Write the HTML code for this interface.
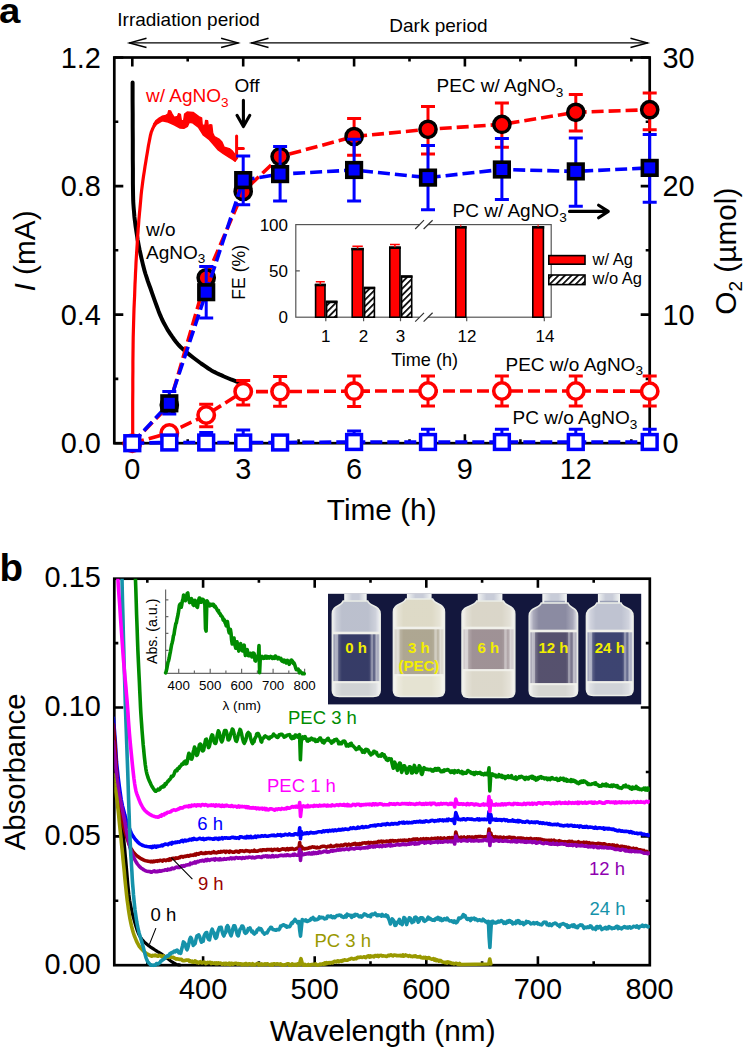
<!DOCTYPE html>
<html><head><meta charset="utf-8"><title>Figure</title>
<style>
html,body{margin:0;padding:0;background:#fff;width:745px;height:1048px;overflow:hidden;}
svg{display:block;}
text{font-family:"Liberation Sans",sans-serif;}
</style></head><body>
<svg width="745" height="1048" viewBox="0 0 745 1048">
<text transform="translate(-1 23) scale(1.08 1)" font-size="35.5" text-anchor="start" fill="#000" font-weight="bold" >a</text>
<text transform="translate(117.3 25.6) scale(1.0 1)" font-size="19" text-anchor="start" fill="#000" >Irradiation period</text>
<text transform="translate(389.3 32) scale(1.0 1)" font-size="19" text-anchor="start" fill="#000" >Dark period</text>
<line x1="129" y1="42.9" x2="238.6" y2="42.9" stroke="#000" stroke-width="1.3"/>
<polyline points="146.5,38.3 129.6,42.9 146.5,47.5" fill="none" stroke="#000" stroke-width="1.5" stroke-linejoin="miter"/>
<polyline points="221.1,38.3 238,42.9 221.1,47.5" fill="none" stroke="#000" stroke-width="1.5" stroke-linejoin="miter"/>
<line x1="251" y1="42.9" x2="648" y2="42.9" stroke="#000" stroke-width="1.3"/>
<polyline points="268.5,38.3 251.6,42.9 268.5,47.5" fill="none" stroke="#000" stroke-width="1.5" stroke-linejoin="miter"/>
<polyline points="630.5,38.3 647.4,42.9 630.5,47.5" fill="none" stroke="#000" stroke-width="1.5" stroke-linejoin="miter"/>
<rect x="114.3" y="57.5" width="535.4" height="385.7" fill="none" stroke="#000" stroke-width="2.7"/>
<path d="M132.3 443.2v-9 M132.3 57.5v9 M187.7 443.2v-4 M187.7 57.5v4 M243.2 443.2v-9 M243.2 57.5v9 M298.6 443.2v-4 M298.6 57.5v4 M354.1 443.2v-9 M354.1 57.5v9 M409.5 443.2v-4 M409.5 57.5v4 M464.9 443.2v-9 M464.9 57.5v9 M520.4 443.2v-4 M520.4 57.5v4 M575.8 443.2v-9 M575.8 57.5v9 M631.3 443.2v-4 M631.3 57.5v4 M114.3 443.2h9 M649.7 443.2h-9 M114.3 378.9h4 M649.7 378.9h-4 M114.3 314.6h9 M649.7 314.6h-9 M114.3 250.3h4 M649.7 250.3h-4 M114.3 186.1h9 M649.7 186.1h-9 M114.3 121.8h4 M649.7 121.8h-4 M114.3 57.5h9 M649.7 57.5h-9" stroke="#000" stroke-width="2.6" fill="none"/>
<text transform="translate(100.8 453.4) scale(1.0 1)" font-size="28.9" text-anchor="end" fill="#000" >0.0</text>
<text transform="translate(100.8 324.8) scale(1.0 1)" font-size="28.9" text-anchor="end" fill="#000" >0.4</text>
<text transform="translate(100.8 196.3) scale(1.0 1)" font-size="28.9" text-anchor="end" fill="#000" >0.8</text>
<text transform="translate(100.8 67.7) scale(1.0 1)" font-size="28.9" text-anchor="end" fill="#000" >1.2</text>
<text transform="translate(662.5 453.4) scale(1.0 1)" font-size="28.9" text-anchor="start" fill="#000" >0</text>
<text transform="translate(662.5 324.8) scale(1.0 1)" font-size="28.9" text-anchor="start" fill="#000" >10</text>
<text transform="translate(662.5 196.3) scale(1.0 1)" font-size="28.9" text-anchor="start" fill="#000" >20</text>
<text transform="translate(662.5 67.7) scale(1.0 1)" font-size="28.9" text-anchor="start" fill="#000" >30</text>
<text transform="translate(132.3 478.5) scale(1.0 1)" font-size="28.9" text-anchor="middle" fill="#000" >0</text>
<text transform="translate(243.2 478.5) scale(1.0 1)" font-size="28.9" text-anchor="middle" fill="#000" >3</text>
<text transform="translate(354.1 478.5) scale(1.0 1)" font-size="28.9" text-anchor="middle" fill="#000" >6</text>
<text transform="translate(464.9 478.5) scale(1.0 1)" font-size="28.9" text-anchor="middle" fill="#000" >9</text>
<text transform="translate(575.8 478.5) scale(1.0 1)" font-size="28.9" text-anchor="middle" fill="#000" >12</text>
<text transform="translate(381.7 520) scale(1.0 1)" font-size="29.8" text-anchor="middle" fill="#000" >Time (h)</text>
<text transform="translate(35.3 251) rotate(-90)" font-size="29.8" text-anchor="middle"><tspan font-style="italic">I</tspan> (mA)</text>
<text transform="translate(736.2 251.2) rotate(-90)" font-size="29.8" text-anchor="middle">O<tspan font-size="19" dy="6">2</tspan><tspan dy="-6"> (µmol)</tspan></text>
<path d="M132.6 82.6 L132.6 90.2 L132.6 100.9 L132.7 113.4 L132.7 126.6 L132.8 139.2 L132.8 150 L132.8 159.2 L132.9 168 L132.9 176.1 L132.9 183.5 L133 190.2 L133.1 196 L133.2 200.7 L133.4 204.2 L133.6 206.9 L133.8 209.3 L134 211.5 L134.2 214 L134.4 216.7 L134.7 219.2 L135 221.6 L135.3 224 L135.6 226.4 L136 229 L136.4 231.6 L136.8 234.2 L137.2 236.8 L137.6 239.6 L138.2 242.5 L138.8 245.8 L139.5 249.4 L140.4 253.4 L141.3 257.6 L142.3 261.9 L143.3 266.1 L144.4 270.2 L145.5 274 L146.7 277.7 L147.9 281.4 L149.2 285 L150.6 288.8 L152 292.8 L153.5 297.1 L155.1 301.6 L156.8 306.3 L158.5 310.9 L160.3 315.4 L162.1 319.5 L164 323.3 L166 326.9 L168 330.4 L170.1 333.6 L172.2 336.7 L174.2 339.5 L176.1 342 L177.8 344.1 L179.6 346 L181.4 347.8 L183.6 349.8 L186.2 352 L189.4 354.6 L193.1 357.5 L197.1 360.5 L201.1 363.5 L205 366.2 L208.4 368.5 L211.4 370.4 L214.2 371.9 L216.8 373.2 L219.3 374.4 L221.7 375.4 L224 376.5 L226.3 377.5 L228.7 378.5 L230.9 379.4 L233 380.2 L234.9 380.9 L236.6 381.5 L238.1 382 L239.4 382.5 L240.6 382.8 L241.6 383.1 L242.4 383.3 L243 383.5" fill="none" stroke="#000" stroke-width="4" stroke-linejoin="round" stroke-linecap="round"/>
<path d="M132.7 443.5 L132.7 436.4 L132.7 426.5 L132.7 414.9 L132.7 402.5 L132.8 390.5 L132.8 380 L132.9 370.8 L132.9 362 L133 353.5 L133.1 345.4 L133.2 337.6 L133.4 330 L133.6 322.7 L133.8 315.6 L134 308.9 L134.3 302.4 L134.6 296.1 L134.8 290 L135 284.1 L135.3 278.5 L135.5 273.1 L135.8 267.9 L136 262.9 L136.3 258 L136.6 253.2 L136.9 248.6 L137.2 244.2 L137.4 239.9 L137.7 235.9 L138 232 L138.2 228.5 L138.5 225.4 L138.7 222.6 L138.9 219.7 L139.2 216.5 L139.5 213 L139.9 209 L140.3 204.7 L140.7 200.1 L141.1 195.4 L141.6 190.7 L142.2 186 L142.8 181.2 L143.5 176.3 L144.3 171.3 L145 166.4 L145.8 161.7 L146.5 157.3 L147.2 153.2 L147.9 149.1 L148.5 145.3 L149.2 141.8 L149.8 138.6 L150.3 136 L150.8 134 L151.2 132.5 L151.5 131.5 L151.9 130.7 L152.2 129.9 L152.6 129 L153 128 L153.5 127 L153.9 126.1 L154.4 125.2 L154.7 124.5 L155 124" fill="none" stroke="#f00" stroke-width="3.2" stroke-linejoin="round" stroke-linecap="round"/>
<path d="M153.6 124.2 L156 120.5 L159.1 118.1 L162.1 116.3 L165.7 115.4 L167.9 114 L168.7 110.6 L170.5 110.9 L172.3 114.5 L174.2 117.3 L177.6 116.3 L178.6 113.6 L180.4 114.3 L181.3 120.3 L183.6 121 L184.6 114 L187.2 112 L193.1 112.4 L196.1 114.6 L199.8 117.2 L201.6 117.9 L202.2 124.9 L204.9 125.7 L205.6 120.5 L207.6 120.8 L208.4 127 L209.9 124.6 L211.8 125 L212.7 133 L214.5 136.7 L219 139 L221.9 141.9 L224.1 147.1 L229.3 148.6 L232.2 150.8 L234.6 154 L235.4 161.1 L229.3 157.4 L223.4 153.7 L218.2 150 L213.1 144.1 L209.4 139.7 L203.5 135.3 L198.3 127.1 L192.4 122.7 L189.3 122.3 L187.4 126.4 L183.8 128.4 L180.2 128.1 L174.2 124.8 L168.1 122 L162.1 120.8 L156.6 124.2 L153.6 127.6Z" fill="#f00" stroke="#f00" stroke-width="1.4" stroke-linejoin="round"/>
<path d="M234.8 160.2L236.6 158V136M236.6 148.6H243.4" fill="none" stroke="#f00" stroke-width="3" stroke-linecap="round"/>
<path d="M132.3 443.2 L169.3 433 L206.2 415 L243.2 391.6 L280.1 391.6 L354.1 391.1 L428 391 L501.9 391 L575.8 391 L649.7 391.2" fill="none" stroke="#f00" stroke-width="3.6" stroke-dasharray="12 5"/>
<path d="M206.2 404.3V426.8 M199.2 404.3h14 M199.2 426.8h14 M243.2 380.5V405.1 M236.2 380.5h14 M236.2 405.1h14 M280.1 376.5V406.3 M273.1 376.5h14 M273.1 406.3h14 M354.1 376.1V406.5 M347.1 376.1h14 M347.1 406.5h14 M428 376.1V406 M421 376.1h14 M421 406h14 M501.9 376.1V406 M494.9 376.1h14 M494.9 406h14 M575.8 376.1V406 M568.8 376.1h14 M568.8 406h14 M649.7 376.1V406 M642.7 376.1h14 M642.7 406h14" fill="none" stroke="#f00" stroke-width="3.0"/>
<circle cx="132.3" cy="443.2" r="8.2" fill="#fff" stroke="#f00" stroke-width="3.6"/>
<circle cx="169.3" cy="433" r="8.2" fill="#fff" stroke="#f00" stroke-width="3.6"/>
<circle cx="206.2" cy="415" r="8.2" fill="#fff" stroke="#f00" stroke-width="3.6"/>
<circle cx="243.2" cy="391.6" r="8.2" fill="#fff" stroke="#f00" stroke-width="3.6"/>
<circle cx="280.1" cy="391.6" r="8.2" fill="#fff" stroke="#f00" stroke-width="3.6"/>
<circle cx="354.1" cy="391.1" r="8.2" fill="#fff" stroke="#f00" stroke-width="3.6"/>
<circle cx="428" cy="391" r="8.2" fill="#fff" stroke="#f00" stroke-width="3.6"/>
<circle cx="501.9" cy="391" r="8.2" fill="#fff" stroke="#f00" stroke-width="3.6"/>
<circle cx="575.8" cy="391" r="8.2" fill="#fff" stroke="#f00" stroke-width="3.6"/>
<circle cx="649.7" cy="391.2" r="8.2" fill="#fff" stroke="#f00" stroke-width="3.6"/>
<path d="M132.3 443.2 L169.3 442.5 L206.2 442.5 L243.2 442.5 L280.1 442.5 L354.1 442 L428 442 L501.9 442 L575.8 442 L649.7 442" fill="none" stroke="#00f" stroke-width="3.6" stroke-dasharray="12 5"/>
<path d="M206.2 432.5V443 M199.2 432.5h14 M199.2 443h14 M243.2 430V443 M236.2 430h14 M236.2 443h14 M280.1 443V443 M273.1 443h14 M273.1 443h14 M354.1 431.1V443 M347.1 431.1h14 M347.1 443h14 M428 429.3V443 M421 429.3h14 M421 443h14 M501.9 429.3V443 M494.9 429.3h14 M494.9 443h14 M575.8 429.3V443 M568.8 429.3h14 M568.8 443h14 M649.7 429.3V443 M642.7 429.3h14 M642.7 443h14" fill="none" stroke="#00f" stroke-width="3.0"/>
<path d="M132.3 443.2 L169.3 405 L206.2 277.8 L243.2 191.5 L280.1 156.6 L354.1 136.5 L428 129.3 L501.9 124.4 L575.8 112.3 L649.7 109.7" fill="none" stroke="#f00" stroke-width="3.6" stroke-dasharray="12 5"/>
<path d="M354.1 118.5V155.3 M347.1 118.5h14 M347.1 155.3h14 M428 106.4V154 M421 106.4h14 M421 154h14 M501.9 103V147.2 M494.9 103h14 M494.9 147.2h14 M575.8 94.4V131.1 M568.8 94.4h14 M568.8 131.1h14 M649.7 93V129.8 M642.7 93h14 M642.7 129.8h14" fill="none" stroke="#f00" stroke-width="3.0"/>
<circle cx="169.3" cy="405" r="8.1" fill="#f00" stroke="#000" stroke-width="3.5"/>
<circle cx="206.2" cy="277.8" r="8.1" fill="#f00" stroke="#000" stroke-width="3.5"/>
<circle cx="243.2" cy="191.5" r="8.1" fill="#f00" stroke="#000" stroke-width="3.5"/>
<circle cx="280.1" cy="156.6" r="8.1" fill="#f00" stroke="#000" stroke-width="3.5"/>
<circle cx="354.1" cy="136.5" r="8.1" fill="#f00" stroke="#000" stroke-width="3.5"/>
<circle cx="428" cy="129.3" r="8.1" fill="#f00" stroke="#000" stroke-width="3.5"/>
<circle cx="501.9" cy="124.4" r="8.1" fill="#f00" stroke="#000" stroke-width="3.5"/>
<circle cx="575.8" cy="112.3" r="8.1" fill="#f00" stroke="#000" stroke-width="3.5"/>
<circle cx="649.7" cy="109.7" r="8.1" fill="#f00" stroke="#000" stroke-width="3.5"/>
<path d="M132.3 443.2 L169.3 403.3 L206.2 292.2 L243.2 180.1 L280.1 174.1 L354.1 170 L428 177.6 L501.9 169.5 L575.8 171.4 L649.7 167.9" fill="none" stroke="#00f" stroke-width="3.6" stroke-dasharray="12 5"/>
<path d="M169.3 391.4V414 M162.3 391.4h14 M162.3 414h14 M206.2 266.4V318.1 M199.2 266.4h14 M199.2 318.1h14 M243.2 155.9V204.8 M236.2 155.9h14 M236.2 204.8h14 M280.1 146.4V201 M273.1 146.4h14 M273.1 201h14 M354.1 139.2V201 M347.1 139.2h14 M347.1 201h14 M428 145.4V209.8 M421 145.4h14 M421 209.8h14 M501.9 138.4V199.6 M494.9 138.4h14 M494.9 199.6h14 M575.8 137.9V206.3 M568.8 137.9h14 M568.8 206.3h14 M649.7 134.6V202.3 M642.7 134.6h14 M642.7 202.3h14" fill="none" stroke="#00f" stroke-width="3.0"/>
<rect x="162" y="396" width="14.6" height="14.6" fill="#00f" stroke="#000" stroke-width="3.6"/>
<rect x="198.9" y="284.9" width="14.6" height="14.6" fill="#00f" stroke="#000" stroke-width="3.6"/>
<rect x="235.9" y="172.8" width="14.6" height="14.6" fill="#00f" stroke="#000" stroke-width="3.6"/>
<rect x="272.8" y="166.8" width="14.6" height="14.6" fill="#00f" stroke="#000" stroke-width="3.6"/>
<rect x="346.8" y="162.7" width="14.6" height="14.6" fill="#00f" stroke="#000" stroke-width="3.6"/>
<rect x="420.7" y="170.3" width="14.6" height="14.6" fill="#00f" stroke="#000" stroke-width="3.6"/>
<rect x="494.6" y="162.2" width="14.6" height="14.6" fill="#00f" stroke="#000" stroke-width="3.6"/>
<rect x="568.5" y="164.1" width="14.6" height="14.6" fill="#00f" stroke="#000" stroke-width="3.6"/>
<rect x="642.4" y="160.6" width="14.6" height="14.6" fill="#00f" stroke="#000" stroke-width="3.6"/>
<rect x="124.9" y="435.8" width="14.8" height="14.8" fill="#fff" stroke="#00f" stroke-width="3.5"/>
<rect x="161.9" y="435.1" width="14.8" height="14.8" fill="#fff" stroke="#00f" stroke-width="3.5"/>
<rect x="198.8" y="435.1" width="14.8" height="14.8" fill="#fff" stroke="#00f" stroke-width="3.5"/>
<rect x="235.8" y="435.1" width="14.8" height="14.8" fill="#fff" stroke="#00f" stroke-width="3.5"/>
<rect x="272.7" y="435.1" width="14.8" height="14.8" fill="#fff" stroke="#00f" stroke-width="3.5"/>
<rect x="346.7" y="434.6" width="14.8" height="14.8" fill="#fff" stroke="#00f" stroke-width="3.5"/>
<rect x="420.6" y="434.6" width="14.8" height="14.8" fill="#fff" stroke="#00f" stroke-width="3.5"/>
<rect x="494.5" y="434.6" width="14.8" height="14.8" fill="#fff" stroke="#00f" stroke-width="3.5"/>
<rect x="568.4" y="434.6" width="14.8" height="14.8" fill="#fff" stroke="#00f" stroke-width="3.5"/>
<rect x="642.3" y="434.6" width="14.8" height="14.8" fill="#fff" stroke="#00f" stroke-width="3.5"/>
<text transform="translate(146 102.3) scale(1.0 1)" font-size="19" text-anchor="start" fill="#f00" >w/ AgNO<tspan font-size="13.6" dy="4.4">3</tspan></text>
<text transform="translate(234.5 91.7) scale(1.0 1)" font-size="19" text-anchor="start" fill="#000" >Off</text>
<path d="M243.4 100.3V125.5M237 115.3L243.4 126.6L249.8 115.3" fill="none" stroke="#000" stroke-width="3.1" stroke-linecap="round" stroke-linejoin="round"/>
<text transform="translate(146 236) scale(1.0 1)" font-size="19" text-anchor="start" fill="#000" >w/o</text>
<text transform="translate(146 258.5) scale(1.0 1)" font-size="19" text-anchor="start" fill="#000" >AgNO<tspan font-size="13.6" dy="4.4">3</tspan></text>
<text transform="translate(436.5 92.4) scale(1.0 1)" font-size="19" text-anchor="start" fill="#000" >PEC w/ AgNO<tspan font-size="13.6" dy="4.4">3</tspan></text>
<text transform="translate(452.5 217.2) scale(1.0 1)" font-size="19" text-anchor="start" fill="#000" >PC w/ AgNO<tspan font-size="13.6" dy="4.4">3</tspan></text>
<path d="M569.5 211.4H607.5M598.6 205.2L608.3 211.4L598.6 217.8" fill="none" stroke="#000" stroke-width="3.1" stroke-linecap="round" stroke-linejoin="round"/>
<text transform="translate(505.5 370.7) scale(1.0 1)" font-size="19" text-anchor="start" fill="#000" >PEC w/o AgNO<tspan font-size="13.6" dy="4.4">3</tspan></text>
<text transform="translate(512.5 424.4) scale(1.0 1)" font-size="19" text-anchor="start" fill="#000" >PC w/o AgNO<tspan font-size="13.6" dy="4.4">3</tspan></text>
<defs><pattern id="hatch" patternUnits="userSpaceOnUse" width="4.6" height="4.6" patternTransform="rotate(45)"><rect width="4.6" height="4.6" fill="#fff"/><rect width="1.7" height="4.6" fill="#000"/></pattern></defs>
<rect x="295.8" y="224.6" width="255.4" height="92.6" fill="#fff" stroke="#555" stroke-width="1.2"/>
<rect x="419.3" y="223.1" width="8.6" height="3" fill="#fff"/>
<path d="M415.2 229L424 220.2M423.6 229L432.6 220.2" stroke="#333" stroke-width="1.2"/>
<rect x="419.3" y="315.7" width="8.6" height="3" fill="#fff"/>
<path d="M415.2 321.6L424 312.8M423.6 321.6L432.6 312.8" stroke="#333" stroke-width="1.2"/>
<path d="M295.8 270.9h4M325.8 317.2v4M363.6 317.2v4M400.5 317.2v4M466.7 317.2v4M544.3 317.2v4" stroke="#555" stroke-width="1.2"/>
<rect x="315.6" y="284.5" width="9.4" height="32.7" fill="#f00" stroke="#000" stroke-width="1.6"/>
<path d="M314.8 285.1H325.8" stroke="#000" stroke-width="2.4"/>
<path d="M315.8 281.8H324.8M320.3 281.8V284.5" stroke="#f00" stroke-width="1.6"/>
<rect x="326.6" y="301.4" width="10.1" height="15.8" fill="url(#hatch)" stroke="#000" stroke-width="1.6"/>
<path d="M325.8 302H337.5" stroke="#000" stroke-width="2.4"/>
<rect x="352.2" y="248.6" width="10.8" height="68.6" fill="#f00" stroke="#000" stroke-width="1.6"/>
<path d="M351.4 249.2H363.8" stroke="#000" stroke-width="2.4"/>
<path d="M352.4 246.3H362.8M357.6 246.3V248.6" stroke="#f00" stroke-width="1.6"/>
<rect x="364.6" y="287.5" width="9.8" height="29.7" fill="url(#hatch)" stroke="#000" stroke-width="1.6"/>
<path d="M363.8 288.1H375.2" stroke="#000" stroke-width="2.4"/>
<rect x="389.8" y="247.2" width="10.2" height="70" fill="#f00" stroke="#000" stroke-width="1.6"/>
<path d="M389 247.8H400.8" stroke="#000" stroke-width="2.4"/>
<path d="M390 244.5H399.8M394.9 244.5V247.2" stroke="#f00" stroke-width="1.6"/>
<rect x="401.6" y="276.1" width="10.1" height="41.1" fill="url(#hatch)" stroke="#000" stroke-width="1.6"/>
<path d="M400.8 276.7H412.5" stroke="#000" stroke-width="2.4"/>
<rect x="455.8" y="226.8" width="10" height="90.4" fill="#f00" stroke="#000" stroke-width="1.6"/>
<path d="M455 227.4H466.6" stroke="#000" stroke-width="2.4"/>
<rect x="532.8" y="226.8" width="10.6" height="90.4" fill="#f00" stroke="#000" stroke-width="1.6"/>
<path d="M532 227.4H544.2" stroke="#000" stroke-width="2.4"/>
<path d="M460.8 224.6V227" stroke="#f00" stroke-width="1"/>
<path d="M538.1 224.6V227" stroke="#f00" stroke-width="1"/>
<text transform="translate(288 323.2) scale(1.0 1)" font-size="17" text-anchor="end" fill="#000" >0</text>
<text transform="translate(288 276.9) scale(1.0 1)" font-size="17" text-anchor="end" fill="#000" >50</text>
<text transform="translate(288 230.6) scale(1.0 1)" font-size="17" text-anchor="end" fill="#000" >100</text>
<text transform="translate(325.8 341.6) scale(1.0 1)" font-size="17" text-anchor="middle" fill="#000" >1</text>
<text transform="translate(363.6 341.6) scale(1.0 1)" font-size="17" text-anchor="middle" fill="#000" >2</text>
<text transform="translate(400.5 341.6) scale(1.0 1)" font-size="17" text-anchor="middle" fill="#000" >3</text>
<text transform="translate(467 341.6) scale(1.0 1)" font-size="17" text-anchor="middle" fill="#000" >12</text>
<text transform="translate(545 341.6) scale(1.0 1)" font-size="17" text-anchor="middle" fill="#000" >14</text>
<text transform="translate(424.7 365.7) scale(1.0 1)" font-size="18.1" text-anchor="middle" fill="#000" >Time (h)</text>
<text transform="translate(244.6 272.3) rotate(-90)" font-size="17.6" text-anchor="middle">FE (%)</text>
<rect x="548.8" y="255.6" width="36.2" height="8.6" fill="#f00" stroke="#000" stroke-width="1.6"/>
<rect x="548.8" y="275" width="36.2" height="9.6" fill="url(#hatch)" stroke="#000" stroke-width="1.6"/>
<text transform="translate(592.5 265.3) scale(1.0 1)" font-size="16.5" text-anchor="start" fill="#000" >w/ Ag</text>
<text transform="translate(592.5 283.9) scale(1.0 1)" font-size="16.5" text-anchor="start" fill="#000" >w/o Ag</text>
<text transform="translate(-0.5 581.3) scale(1.0 1)" font-size="38.5" text-anchor="start" fill="#000" font-weight="bold" >b</text>
<rect x="114.3" y="578.7" width="535.5" height="386.5" fill="none" stroke="#000" stroke-width="2.7"/>
<path d="M147.3 965.2v-4 M147.3 578.7v4 M203.1 965.2v-9 M203.1 578.7v9 M258.9 965.2v-4 M258.9 578.7v4 M314.7 965.2v-9 M314.7 578.7v9 M370.5 965.2v-4 M370.5 578.7v4 M426.3 965.2v-9 M426.3 578.7v9 M482.1 965.2v-4 M482.1 578.7v4 M537.9 965.2v-9 M537.9 578.7v9 M593.7 965.2v-4 M593.7 578.7v4 M114.3 900.8h4 M649.8 900.8h-4 M114.3 836.4h9 M649.8 836.4h-9 M114.3 772h4 M649.8 772h-4 M114.3 707.5h9 M649.8 707.5h-9 M114.3 643.1h4 M649.8 643.1h-4" stroke="#000" stroke-width="2.6" fill="none"/>
<text transform="translate(100.8 973.7) scale(1.0 1)" font-size="28.9" text-anchor="end" fill="#000" >0.00</text>
<text transform="translate(100.8 844.9) scale(1.0 1)" font-size="28.9" text-anchor="end" fill="#000" >0.05</text>
<text transform="translate(100.8 716) scale(1.0 1)" font-size="28.9" text-anchor="end" fill="#000" >0.10</text>
<text transform="translate(100.8 587.2) scale(1.0 1)" font-size="28.9" text-anchor="end" fill="#000" >0.15</text>
<text transform="translate(203.1 998.9) scale(1.0 1)" font-size="28.9" text-anchor="middle" fill="#000" >400</text>
<text transform="translate(314.7 998.9) scale(1.0 1)" font-size="28.9" text-anchor="middle" fill="#000" >500</text>
<text transform="translate(426.3 998.9) scale(1.0 1)" font-size="28.9" text-anchor="middle" fill="#000" >600</text>
<text transform="translate(537.9 998.9) scale(1.0 1)" font-size="28.9" text-anchor="middle" fill="#000" >700</text>
<text transform="translate(649.5 998.9) scale(1.0 1)" font-size="28.9" text-anchor="middle" fill="#000" >800</text>
<text transform="translate(382.7 1041.3) scale(1.0 1)" font-size="29.8" text-anchor="middle" fill="#000" >Wavelength (nm)</text>
<text transform="translate(25.4 771.9) rotate(-90)" font-size="29.4" text-anchor="middle">Absorbance</text>
<defs><clipPath id="clipb"><rect x="114.3" y="578.7" width="535.5" height="388.5"/></clipPath></defs>
<path d="M113.4 752 L113.6 754.4 L113.8 757.7 L114 761.6 L114.3 766 L114.6 770.5 L115 775 L115.4 779.6 L115.8 784.6 L116.3 789.8 L116.8 795 L117.4 800.1 L118 805 L118.7 809.5 L119.5 813.8 L120.4 818 L121.3 822.2 L122.1 826.7 L122.9 831.5 L123.6 836.8 L124.1 842.4 L124.7 848.2 L125.2 854.1 L125.8 860.1 L126.3 865.9 L126.8 871.7 L127.3 877.7 L127.8 883.6 L128.4 889.4 L129 895 L129.7 900.2 L130.6 905.2 L131.6 909.9 L132.6 914.5 L133.7 918.7 L134.8 922.6 L135.8 926 L136.7 928.9 L137.5 931.2 L138.3 933.2 L139.1 934.9 L140 936.5 L140.9 938 L141.9 939.5 L143.1 940.7 L144.2 941.9 L145.4 942.9 L146.6 943.9 L147.8 944.9 L149 945.9 L150.2 946.8 L151.4 947.6 L152.6 948.4 L153.8 949.2 L155 950 L156.1 950.7 L157.2 951.4 L158.2 952 L159.3 952.6 L160.5 953.4 L162 954.4 L163.8 955.7 L165.9 957.3 L168.2 959 L170.4 960.7 L172.5 962.2 L174.2 963.3 L175.6 964 L176.8 964.5 L177.9 964.7 L178.7 964.8 L179.4 964.9 L180 965" fill="none" stroke="#000" stroke-width="3.2" stroke-linejoin="round" stroke-linecap="round" clip-path="url(#clipb)"/>
<path d="M113.4 718 L113.6 721 L114 725.2 L114.4 730.2 L114.8 735.5 L115.2 740.5 L115.5 745 L115.7 748.7 L115.9 752 L116.1 755.2 L116.3 758.4 L116.5 761.8 L116.9 765.8 L117.4 770.5 L118 775.9 L118.7 781.5 L119.4 787 L120.1 792.1 L120.7 796.3 L121.2 799.6 L121.7 802.1 L122.1 804.2 L122.5 806.1 L123 808 L123.5 810 L124.1 812.3 L124.7 814.6 L125.4 816.9 L126 819.1 L126.6 821.2 L127.2 823 L127.7 824.5 L128.2 825.9 L128.7 827 L129.1 828 L129.6 829 L130 830 L130.4 830.9 L130.7 831.7 L131 832.5 L131.3 833.3 L131.8 834.1 L132.3 835 L133 836.1 L133.8 837.2 L134.7 838.5 L135.6 839.7 L136.6 840.8 L137.5 841.8 L138.4 842.6 L139.2 843.3 L140.1 844 L141 844.5 L141.9 845 L143 845.5 L144.3 845.9 L145.7 846.2 L147.2 846.5 L148.7 846.7 L149.9 846.9 L150.8 847" fill="none" stroke="#0000ff" stroke-width="3.6" stroke-linejoin="round" stroke-linecap="round" clip-path="url(#clipb)"/>
<path d="M150.8 846.6 L151.7 847.6 L152.6 846.3 L153.5 847.1 L154.4 846.1 L155.3 846.3 L156.2 847.2 L157.1 846 L158 846.5 L158.9 846.1 L159.8 846 L160.7 845.9 L161.6 845.2 L162.5 845.9 L163.4 844.7 L164.3 844.7 L165.2 844.1 L166.1 844.3 L167 844.2 L167.9 844.7 L168.8 843.7 L169.7 843.2 L170.6 843.1 L171.5 844 L172.4 842.5 L173.3 843 L174.2 842.5 L175.1 842.7 L176 842.1 L176.9 842.4 L177.8 841.9 L178.7 842 L179.6 842.1 L180.5 841.5 L181.4 840.7 L182.3 840.4 L183.2 841.5 L184.1 840.7 L185 840.1 L185.9 841 L186.8 840.3 L187.7 840.3 L188.6 840.4 L189.5 839.4 L190.4 839.4 L191.3 840 L192.2 838.8 L193.1 839.6 L194 838.5 L194.9 839.2 L195.8 839.2 L196.7 839.5 L197.6 839.3 L198.5 838.8 L199.4 838.4 L200.3 838.4 L201.2 839 L202.1 839.1 L203 838.5 L203.9 839.6 L204.8 839.1 L205.7 839.3 L206.6 838.6 L207.5 838.7 L208.4 838.3 L209.3 838.7 L210.2 838.6 L211.1 838.8 L212 838.7 L212.9 839.3 L213.8 839.3 L214.7 838.3 L215.6 838.6 L216.5 838.2 L217.4 838.9 L218.3 839.3 L219.2 838.1 L220.1 838.9 L221 838.2 L221.9 837.7 L222.8 838.8 L223.7 838.1 L224.6 837.8 L225.5 838.2 L226.4 837.8 L227.3 838.1 L228.2 838.1 L229.1 838 L230 838.2 L230.9 837.7 L231.8 837.4 L232.7 837.3 L233.6 837.3 L234.5 837.9 L235.4 837.6 L236.3 838.2 L237.2 837.7 L238.1 837.9 L239 838.3 L239.9 836.9 L240.8 836.8 L241.7 837 L242.6 837.3 L243.5 837.5 L244.4 837.7 L245.3 837.1 L246.2 837.9 L247.1 836.5 L248 837.6 L248.9 836.7 L249.8 837.5 L250.7 836.3 L251.6 837.6 L252.5 837.2 L253.4 837.5 L254.3 836.9 L255.2 836.2 L256.1 837.3 L257 836.5 L257.9 836 L258.8 836.6 L259.7 836.4 L260.6 836.4 L261.5 835.9 L262.4 835.8 L263.3 836.3 L264.2 836.1 L265.1 835.6 L266 836 L266.9 836.3 L267.8 836.3 L268.7 835.9 L269.6 835.7 L270.5 835.6 L271.4 835.4 L272.3 835.3 L273.2 835.6 L274.1 835 L275 835.8 L275.9 835.8 L276.8 835.6 L277.7 834.7 L278.6 835.1 L279.5 835.1 L280.4 834.6 L281.3 835.8 L282.2 835.4 L283.1 835 L284 835.2 L284.9 834.4 L285.8 834.4 L286.7 834.8 L287.6 835 L288.5 834.8 L289.4 833.8 L290.3 834.6 L291.2 835 L292.1 834.7 L293 834.9 L293.9 834.9 L294.8 833.7 L295.7 833.8 L296.6 834 L297.5 834.6 L298.4 833.6 L298.9 833.8 L299.7 827.7 L300.5 838.7 L301.3 831.6 L302.1 833.5 L302.9 834.1 L303.8 833.8 L304.7 833 L305.6 833.7 L306.5 832.7 L307.4 832.8 L308.3 833.6 L309.2 833.3 L310.1 832.5 L311 832.4 L311.9 832.8 L312.8 833 L313.7 832.7 L314.6 832.9 L315.5 832.6 L316.4 832.6 L317.3 832.2 L318.2 831.8 L319.1 831.8 L320 831.8 L320.9 831.7 L321.8 832.1 L322.7 831.2 L323.6 830.8 L324.5 831.6 L325.4 830.9 L326.3 831 L327.2 830.5 L328.1 831.4 L329 830.5 L329.9 830.4 L330.8 831 L331.7 830.5 L332.6 830.1 L333.5 830.9 L334.4 830.1 L335.3 829.9 L336.2 830.7 L337.1 830.3 L338 830.2 L338.9 829.4 L339.8 830.1 L340.7 829.6 L341.6 829.9 L342.5 829.1 L343.4 829.6 L344.3 829.5 L345.2 828.9 L346.1 829.1 L347 829.2 L347.9 829.4 L348.8 829.2 L349.7 828.9 L350.6 827.9 L351.5 828.5 L352.4 828.5 L353.3 827.6 L354.2 828 L355.1 828.5 L356 828.4 L356.9 828.3 L357.8 827.1 L358.7 827.7 L359.6 827.9 L360.5 827.5 L361.4 827 L362.3 826.5 L363.2 827.6 L364.1 827.4 L365 827 L365.9 826.5 L366.8 827.1 L367.7 826.9 L368.6 826.7 L369.5 826.4 L370.4 825.9 L371.3 825.8 L372.2 825.8 L373.1 825.6 L374 825.8 L374.9 825.1 L375.8 825.9 L376.7 825.2 L377.6 824.9 L378.5 824.9 L379.4 825 L380.3 825 L381.2 825.3 L382.1 824.3 L383 824.4 L383.9 824.4 L384.8 824.1 L385.7 824.8 L386.6 823.8 L387.5 823.6 L388.4 824.2 L389.3 824.4 L390.2 824.4 L391.1 823.9 L392 823.5 L392.9 824.2 L393.8 823.9 L394.7 823.5 L395.6 823.5 L396.5 823.9 L397.4 823.9 L398.3 823.8 L399.2 822.6 L400.1 822.7 L401 822.8 L401.9 822.4 L402.8 823.1 L403.7 822.1 L404.6 823.2 L405.5 822.7 L406.4 822.6 L407.3 822.3 L408.2 823 L409.1 822.4 L410 822.8 L410.9 822.8 L411.8 822.4 L412.7 822.7 L413.6 822 L414.5 821.7 L415.4 822.3 L416.3 821.9 L417.2 821.5 L418.1 822 L419 821.6 L419.9 821.1 L420.8 822 L421.7 821.5 L422.6 822.1 L423.5 821.4 L424.4 822 L425.3 821 L426.2 820.9 L427.1 821.2 L428 821.5 L428.9 821.6 L429.8 821.3 L430.7 820.5 L431.6 820.8 L432.5 820.3 L433.4 820.7 L434.3 821.4 L435.2 820.6 L436.1 821 L437 820.8 L437.9 820.1 L438.8 820.8 L439.7 819.9 L440.6 820 L441.5 820.5 L442.4 819.8 L443.3 820.9 L444.2 820.1 L445.1 820.3 L446 820.7 L446.9 819.4 L447.8 820.5 L448.7 819.1 L449.6 819.8 L450.5 819.9 L451.4 820.3 L452.3 819.4 L453.2 820.2 L453.2 819.5 L454.5 823.5 L455.8 812.5 L457.1 816.5 L458.4 819.4 L458.6 819.2 L459.5 819.2 L460.4 819.8 L461.3 819.2 L462.2 819.6 L463.1 818.7 L464 818.8 L464.9 819.6 L465.8 819.9 L466.7 819.1 L467.6 818.7 L468.5 818.9 L469.4 819.1 L470.3 819.1 L471.2 819.4 L472.1 819 L473 819.5 L473.9 819.7 L474.8 819.7 L475.7 819.6 L476.6 819.4 L477.5 818.9 L478.4 819.8 L479.3 819 L480.2 819.8 L481.1 819.2 L482 819.5 L482.9 819.3 L483.8 819.6 L484.7 819.1 L485.6 819.5 L486.5 819.7 L487.4 819.2 L488.1 819.4 L489 811.5 L489.9 822.5 L490.8 814.5 L491.7 819.6 L491.9 819.6 L492.8 819.9 L493.7 819.2 L494.6 819.2 L495.5 820.2 L496.4 819.2 L497.3 820.2 L498.2 820.2 L499.1 819.5 L500 820.1 L500.9 819.7 L501.8 820.6 L502.7 819.7 L503.6 819.6 L504.5 819.6 L505.4 820.6 L506.3 819.9 L507.2 820.1 L508.1 821.1 L509 820.8 L509.9 820.9 L510.8 820.7 L511.7 820.9 L512.6 820 L513.5 821.2 L514.4 820.6 L515.3 821.4 L516.2 820.9 L517.1 821.6 L518 820.4 L518.9 821.8 L519.8 820.7 L520.7 821.3 L521.6 821.3 L522.5 822.1 L523.4 821.8 L524.3 822.2 L525.2 822.2 L526.1 821.6 L527 821.3 L527.9 821.3 L528.8 822.2 L529.7 822.6 L530.6 822.3 L531.5 821.9 L532.4 822.3 L533.3 822.5 L534.2 822 L535.1 822.7 L536 822.1 L536.9 821.9 L537.8 822.1 L538.7 822.7 L539.6 823.1 L540.5 822.6 L541.4 822.9 L542.3 823.4 L543.2 822.9 L544.1 823.3 L545 823.6 L545.9 823.4 L546.8 823.2 L547.7 824 L548.6 824.1 L549.5 823.5 L550.4 824.4 L551.3 824.3 L552.2 824.7 L553.1 824.7 L554 824.3 L554.9 824.7 L555.8 824.3 L556.7 824.8 L557.6 824.1 L558.5 824.6 L559.4 824.9 L560.3 825.5 L561.2 825.3 L562.1 825.6 L563 825.7 L563.9 825.9 L564.8 825.5 L565.7 825.5 L566.6 825.4 L567.5 825.1 L568.4 826 L569.3 825.8 L570.2 825.2 L571.1 825.4 L572 825.4 L572.9 826.2 L573.8 826.1 L574.7 825.6 L575.6 826.3 L576.5 826.2 L577.4 825.9 L578.3 826.2 L579.2 827 L580.1 825.9 L581 826.1 L581.9 826.6 L582.8 827.1 L583.7 827.2 L584.6 826.6 L585.5 827.2 L586.4 826.3 L587.3 826.8 L588.2 827.5 L589.1 827.3 L590 827 L590.9 827.3 L591.8 827.2 L592.7 827.4 L593.6 828 L594.5 828.2 L595.4 827.2 L596.3 828 L597.2 828.4 L598.1 828 L599 827.9 L599.9 827.8 L600.8 828.1 L601.7 828.3 L602.6 828.4 L603.5 827.8 L604.4 829.2 L605.3 828.3 L606.2 828.8 L607.1 828.4 L608 829.1 L608.9 828.4 L609.8 828.9 L610.7 829.1 L611.6 829.1 L612.5 829.5 L613.4 829.1 L614.3 829.7 L615.2 830.3 L616.1 830.1 L617 830.8 L617.9 830.9 L618.8 830.3 L619.7 830.4 L620.6 831 L621.5 831.3 L622.4 830.9 L623.3 831.2 L624.2 831.4 L625.1 831.3 L626 831.4 L626.9 831.4 L627.8 831.6 L628.7 831.8 L629.6 832.4 L630.5 831.6 L631.4 831.7 L632.3 832.9 L633.2 832.5 L634.1 832.9 L635 833.3 L635.9 833.2 L636.8 833.1 L637.7 833.8 L638.6 833.5 L639.5 833.4 L640.4 833.2 L641.3 833.3 L642.2 834.4 L643.1 834.7 L644 834.1 L644.9 834.5 L645.8 834.8 L646.7 834.9 L647.6 834.6 L648.5 835.6 L649.4 835.3" fill="none" stroke="#0000ff" stroke-width="3.6" stroke-linejoin="round" stroke-linecap="round" clip-path="url(#clipb)"/>
<path d="M113.4 724.6 L113.6 726.8 L113.8 729.7 L114.1 733.2 L114.4 737.1 L114.7 741.1 L115 745 L115.3 748.9 L115.5 752.9 L115.7 757.1 L116 761.4 L116.2 765.7 L116.5 770 L116.8 774.4 L117.1 779.1 L117.4 783.7 L117.7 788.3 L118 792.5 L118.4 796.3 L118.8 799.5 L119.2 802.3 L119.6 804.9 L120.1 807.2 L120.5 809.6 L121 812 L121.4 814.6 L121.9 817.1 L122.3 819.6 L122.8 822.1 L123.3 824.5 L123.8 826.9 L124.4 829.2 L125 831.6 L125.7 833.8 L126.3 836 L127 838.1 L127.6 840 L128.2 841.7 L128.7 843.3 L129.3 844.7 L129.8 846.1 L130.4 847.3 L131 848.5 L131.6 849.6 L132.3 850.6 L132.9 851.5 L133.6 852.4 L134.3 853.2 L135 854 L135.8 854.8 L136.6 855.5 L137.4 856.2 L138.3 856.8 L139.2 857.4 L140 858 L140.8 858.5 L141.6 859 L142.5 859.4 L143.3 859.8 L144.1 860.2 L145 860.5 L146 860.8 L147.1 861 L148.2 861.3 L149.3 861.4 L150.2 861.6 L150.8 861.7" fill="none" stroke="#990000" stroke-width="3.6" stroke-linejoin="round" stroke-linecap="round" clip-path="url(#clipb)"/>
<path d="M150.8 861.5 L151.7 861.2 L152.6 861.8 L153.5 861 L154.4 861.6 L155.3 861.3 L156.2 860.8 L157.1 861.3 L158 860.6 L158.9 861 L159.8 860.4 L160.7 860.3 L161.6 860.7 L162.5 861.1 L163.4 860 L164.3 860 L165.2 860.4 L166.1 860.7 L167 860 L167.9 859.6 L168.8 860.3 L169.7 858.8 L170.6 859.8 L171.5 858.8 L172.4 858.5 L173.3 858.3 L174.2 858.4 L175.1 858.9 L176 857.9 L176.9 858.3 L177.8 858.2 L178.7 857.6 L179.6 857.7 L180.5 856.8 L181.4 856.6 L182.3 856.6 L183.2 857.1 L184.1 856.5 L185 856.2 L185.9 856.4 L186.8 856 L187.7 855.6 L188.6 856.2 L189.5 855.9 L190.4 855.1 L191.3 855.4 L192.2 855.1 L193.1 855.4 L194 855 L194.9 854.2 L195.8 855 L196.7 853.6 L197.6 853.9 L198.5 854.2 L199.4 853.2 L200.3 853.5 L201.2 852.7 L202.1 853.5 L203 853.5 L203.9 853.2 L204.8 853.5 L205.7 852.6 L206.6 853.1 L207.5 852.9 L208.4 852.8 L209.3 852.6 L210.2 853 L211.1 853.1 L212 852.4 L212.9 852.6 L213.8 851.7 L214.7 852.6 L215.6 852.5 L216.5 852.9 L217.4 852.6 L218.3 851.8 L219.2 852 L220.1 852.3 L221 851.4 L221.9 852 L222.8 851.5 L223.7 851.4 L224.6 851.3 L225.5 852.3 L226.4 851.3 L227.3 851.5 L228.2 851.6 L229.1 852.3 L230 851.1 L230.9 851.6 L231.8 851.7 L232.7 852.2 L233.6 852.1 L234.5 852.1 L235.4 851.2 L236.3 851.4 L237.2 851.3 L238.1 852 L239 852.1 L239.9 850.9 L240.8 850.9 L241.7 851 L242.6 850.9 L243.5 851.2 L244.4 851.4 L245.3 850.9 L246.2 850.5 L247.1 851 L248 850.9 L248.9 851.1 L249.8 851.6 L250.7 851.2 L251.6 850.9 L252.5 851.1 L253.4 851.1 L254.3 850.2 L255.2 851.3 L256.1 851.1 L257 851.2 L257.9 851.1 L258.8 850.5 L259.7 850.4 L260.6 850 L261.5 850.7 L262.4 849.8 L263.3 849.8 L264.2 850 L265.1 849.9 L266 850.1 L266.9 849.6 L267.8 849.5 L268.7 849.7 L269.6 849.6 L270.5 849.9 L271.4 849.4 L272.3 850.5 L273.2 850.1 L274.1 849.4 L275 849.5 L275.9 849.6 L276.8 849.6 L277.7 849.2 L278.6 850.2 L279.5 850.3 L280.4 849.6 L281.3 849.5 L282.2 848.9 L283.1 848.9 L284 849.2 L284.9 849 L285.8 849.8 L286.7 848.8 L287.6 848.6 L288.5 849.8 L289.4 849.2 L290.3 848.6 L291.2 849.1 L292.1 848.3 L293 849 L293.9 849.5 L294.8 849.3 L295.7 849 L296.6 848.4 L297.5 848.5 L298.4 848.1 L298.9 848.6 L299.7 842.5 L300.5 853.5 L301.3 846.4 L302.1 848.4 L302.9 847.9 L303.8 848.7 L304.7 848.9 L305.6 848.6 L306.5 848.5 L307.4 848.4 L308.3 848.3 L309.2 847.5 L310.1 847.8 L311 847.5 L311.9 847 L312.8 846.9 L313.7 847.2 L314.6 847.1 L315.5 847.6 L316.4 847.9 L317.3 847.2 L318.2 847.8 L319.1 847.8 L320 847.6 L320.9 846.7 L321.8 846.5 L322.7 846.4 L323.6 846.3 L324.5 846.2 L325.4 846.7 L326.3 847.1 L327.2 846.9 L328.1 846.3 L329 846.5 L329.9 846.6 L330.8 845.5 L331.7 846.3 L332.6 846.5 L333.5 846.3 L334.4 846.2 L335.3 845.7 L336.2 845.2 L337.1 846 L338 845.3 L338.9 845.8 L339.8 846 L340.7 845.1 L341.6 845.1 L342.5 845.7 L343.4 845.4 L344.3 844.5 L345.2 844.4 L346.1 844.3 L347 845.3 L347.9 845.1 L348.8 844.1 L349.7 845 L350.6 845.1 L351.5 844.6 L352.4 844.1 L353.3 844.3 L354.2 843.6 L355.1 843.4 L356 844.7 L356.9 844.1 L357.8 843.9 L358.7 844.4 L359.6 843.6 L360.5 844.1 L361.4 844 L362.3 843 L363.2 843 L364.1 843 L365 842.8 L365.9 843.3 L366.8 842.7 L367.7 842.9 L368.6 842.4 L369.5 843.4 L370.4 842.5 L371.3 842.6 L372.2 842.7 L373.1 843.1 L374 842.3 L374.9 842.9 L375.8 842.3 L376.7 842.2 L377.6 842.1 L378.5 841.3 L379.4 841.9 L380.3 841.4 L381.2 841.1 L382.1 842.1 L383 841.2 L383.9 841.5 L384.8 841.8 L385.7 841.5 L386.6 841.1 L387.5 841.3 L388.4 841.3 L389.3 841.5 L390.2 840.5 L391.1 841.1 L392 840.6 L392.9 840.6 L393.8 841.2 L394.7 840.8 L395.6 840.8 L396.5 841 L397.4 841.1 L398.3 840.4 L399.2 840.6 L400.1 840.4 L401 840.4 L401.9 840.6 L402.8 840.2 L403.7 840.2 L404.6 840.1 L405.5 840.7 L406.4 840.3 L407.3 840.5 L408.2 840.6 L409.1 839.6 L410 839.9 L410.9 840.4 L411.8 840.2 L412.7 839.2 L413.6 839.1 L414.5 839.5 L415.4 839 L416.3 839.2 L417.2 838.9 L418.1 839.7 L419 839.8 L419.9 839.9 L420.8 838.8 L421.7 839.6 L422.6 839.5 L423.5 838.7 L424.4 839.7 L425.3 839.8 L426.2 838.7 L427.1 839.7 L428 838.9 L428.9 839 L429.8 839.6 L430.7 839.4 L431.6 838.4 L432.5 838.7 L433.4 838.8 L434.3 838.5 L435.2 838.3 L436.1 838.5 L437 839 L437.9 838 L438.8 838.7 L439.7 838.5 L440.6 837.9 L441.5 838.3 L442.4 838.6 L443.3 838.5 L444.2 837.8 L445.1 839 L446 838.7 L446.9 839 L447.8 837.7 L448.7 837.9 L449.6 837.6 L450.5 838.6 L451.4 837.8 L452.3 837.6 L453.2 838 L453.6 838.1 L454.7 841 L455.8 832 L456.9 835.9 L458 837.9 L458.6 838 L459.5 838.1 L460.4 837.2 L461.3 837.1 L462.2 838 L463.1 837.6 L464 837 L464.9 838.2 L465.8 837.7 L466.7 837.9 L467.6 836.9 L468.5 837.9 L469.4 836.8 L470.3 837.9 L471.2 837.3 L472.1 837.1 L473 837.3 L473.9 837.8 L474.8 836.9 L475.7 836.6 L476.6 837.2 L477.5 836.7 L478.4 836.5 L479.3 836.6 L480.2 836.4 L481.1 836.6 L482 836.7 L482.9 836.7 L483.8 837.3 L484.7 836.7 L485.6 837 L486.5 836.5 L487.4 836.8 L488.1 837 L489 829 L489.9 841 L490.8 833 L491.7 837 L491.9 837.1 L492.8 836.6 L493.7 837 L494.6 837.7 L495.5 836.6 L496.4 837.6 L497.3 837.1 L498.2 837.2 L499.1 837.7 L500 837.1 L500.9 837.3 L501.8 837.6 L502.7 838.1 L503.6 837.2 L504.5 838 L505.4 837.8 L506.3 837.8 L507.2 837.5 L508.1 837.5 L509 837.1 L509.9 837.3 L510.8 837.2 L511.7 838.2 L512.6 837.6 L513.5 837.5 L514.4 837.5 L515.3 838.6 L516.2 838.7 L517.1 838.4 L518 838 L518.9 838 L519.8 838.1 L520.7 838.4 L521.6 838 L522.5 838.5 L523.4 838.3 L524.3 839.3 L525.2 839.4 L526.1 838.8 L527 838.5 L527.9 839.5 L528.8 838.7 L529.7 838.8 L530.6 838.3 L531.5 838.9 L532.4 839.1 L533.3 839.2 L534.2 838.8 L535.1 839.3 L536 838.7 L536.9 839.1 L537.8 838.9 L538.7 839.4 L539.6 839 L540.5 839 L541.4 839.5 L542.3 839.5 L543.2 840 L544.1 840 L545 840.4 L545.9 840.3 L546.8 840.5 L547.7 840.8 L548.6 840.2 L549.5 840.2 L550.4 841.2 L551.3 840.1 L552.2 840.9 L553.1 840.9 L554 840.1 L554.9 841.3 L555.8 841.4 L556.7 841.1 L557.6 841.4 L558.5 841.5 L559.4 840.7 L560.3 841.3 L561.2 841.3 L562.1 841.8 L563 841.8 L563.9 841.9 L564.8 841.6 L565.7 842.1 L566.6 841.9 L567.5 842 L568.4 841.4 L569.3 841.2 L570.2 841.4 L571.1 841.7 L572 841.4 L572.9 842.5 L573.8 842.2 L574.7 842.3 L575.6 842.4 L576.5 842.5 L577.4 842.3 L578.3 841.7 L579.2 842.9 L580.1 842.8 L581 842.6 L581.9 842.7 L582.8 842.9 L583.7 842.1 L584.6 843.1 L585.5 842.5 L586.4 842.3 L587.3 842.6 L588.2 843.4 L589.1 842.7 L590 843.5 L590.9 843.9 L591.8 843.3 L592.7 843.2 L593.6 843.4 L594.5 843.8 L595.4 844 L596.3 843.8 L597.2 843.9 L598.1 843.2 L599 843.4 L599.9 843.6 L600.8 844.4 L601.7 843.9 L602.6 844.4 L603.5 843.7 L604.4 843.8 L605.3 844.2 L606.2 844.9 L607.1 845 L608 845.1 L608.9 844.7 L609.8 845.1 L610.7 845.1 L611.6 845.2 L612.5 844.9 L613.4 846.1 L614.3 845.2 L615.2 846.4 L616.1 846.5 L617 845.3 L617.9 846.1 L618.8 846.7 L619.7 847 L620.6 846.4 L621.5 846.3 L622.4 846.4 L623.3 847.5 L624.2 846.6 L625.1 847.3 L626 846.8 L626.9 847.5 L627.8 848.3 L628.7 847.3 L629.6 848.4 L630.5 848.1 L631.4 848.8 L632.3 848.7 L633.2 848.2 L634.1 849.4 L635 849 L635.9 848.5 L636.8 848.7 L637.7 849.6 L638.6 849.7 L639.5 849.7 L640.4 849.7 L641.3 850.3 L642.2 850.4 L643.1 851.4 L644 850.5 L644.9 851.8 L645.8 852.1 L646.7 851.3 L647.6 852.7 L648.5 852.6 L649.4 853.1" fill="none" stroke="#990000" stroke-width="3.6" stroke-linejoin="round" stroke-linecap="round" clip-path="url(#clipb)"/>
<path d="M113.4 741.4 L113.6 744 L113.9 747.5 L114.3 751.6 L114.7 756.2 L115.1 760.7 L115.5 765 L115.9 769.2 L116.4 773.6 L116.9 778 L117.5 782.4 L118 786.4 L118.5 790 L119 793.1 L119.5 795.7 L120 798.1 L120.5 800.4 L121 802.6 L121.5 805 L122 807.5 L122.5 810 L123 812.5 L123.5 815 L124 817.5 L124.5 820 L125 822.5 L125.4 825 L125.9 827.6 L126.3 830.1 L126.8 832.6 L127.3 835 L127.8 837.4 L128.3 839.9 L128.8 842.3 L129.4 844.7 L129.9 846.9 L130.5 849 L131.1 850.9 L131.8 852.7 L132.4 854.4 L133.1 856 L133.8 857.6 L134.5 859 L135.2 860.4 L135.9 861.6 L136.6 862.8 L137.4 864 L138.2 865 L139 866 L139.9 866.9 L140.9 867.8 L141.9 868.6 L143 869.3 L144 870 L145 870.5 L146 870.9 L147.2 871.2 L148.3 871.4 L149.3 871.5 L150.2 871.6 L150.8 871.7" fill="none" stroke="#9000b0" stroke-width="3.6" stroke-linejoin="round" stroke-linecap="round" clip-path="url(#clipb)"/>
<path d="M150.8 872.1 L151.7 872.1 L152.6 871.6 L153.5 871.2 L154.4 870.8 L155.3 871.7 L156.2 871.4 L157.1 871.7 L158 871.1 L158.9 871.5 L159.8 870.7 L160.7 871.3 L161.6 871.1 L162.5 870.5 L163.4 870.5 L164.3 870.5 L165.2 869.7 L166.1 870 L167 870.2 L167.9 869.2 L168.8 869.8 L169.7 869.4 L170.6 869.5 L171.5 868.6 L172.4 868 L173.3 868.8 L174.2 868.6 L175.1 867.9 L176 867.2 L176.9 867.1 L177.8 867.5 L178.7 866.8 L179.6 867.5 L180.5 866.7 L181.4 865.9 L182.3 866.3 L183.2 865.6 L184.1 866.2 L185 865.9 L185.9 865.1 L186.8 865 L187.7 864.9 L188.6 864.8 L189.5 864.8 L190.4 863.2 L191.3 863.5 L192.2 863.6 L193.1 862.9 L194 863 L194.9 862 L195.8 862.9 L196.7 862.1 L197.6 861.3 L198.5 861.8 L199.4 861.1 L200.3 860.8 L201.2 861 L202.1 860.3 L203 860.3 L203.9 861.1 L204.8 860.7 L205.7 859.6 L206.6 860.6 L207.5 859.4 L208.4 859.7 L209.3 860.4 L210.2 860 L211.1 859.4 L212 859.5 L212.9 859.4 L213.8 859 L214.7 860.1 L215.6 858.7 L216.5 859.2 L217.4 859.6 L218.3 859 L219.2 859.8 L220.1 858.7 L221 859.7 L221.9 859.5 L222.8 859.2 L223.7 859.4 L224.6 858.7 L225.5 859.2 L226.4 859.1 L227.3 858.7 L228.2 858.6 L229.1 858.9 L230 858.4 L230.9 857.9 L231.8 858.8 L232.7 858.1 L233.6 858.3 L234.5 858.7 L235.4 857.8 L236.3 857.6 L237.2 857.7 L238.1 858.3 L239 857.9 L239.9 857.7 L240.8 857.9 L241.7 858.6 L242.6 857.6 L243.5 857.7 L244.4 858.3 L245.3 857.9 L246.2 857.4 L247.1 857.6 L248 857.6 L248.9 857.1 L249.8 857.3 L250.7 857.2 L251.6 857.8 L252.5 857.1 L253.4 857.5 L254.3 857.9 L255.2 857.8 L256.1 857 L257 857.2 L257.9 856.8 L258.8 856.9 L259.7 856.9 L260.6 857.3 L261.5 857.5 L262.4 856.5 L263.3 856.1 L264.2 856.6 L265.1 856 L266 855.9 L266.9 856.9 L267.8 856 L268.7 856.8 L269.6 856.2 L270.5 857 L271.4 856.8 L272.3 855.6 L273.2 855.8 L274.1 856.8 L275 856.3 L275.9 855.9 L276.8 856.4 L277.7 856.4 L278.6 855.9 L279.5 855.8 L280.4 855.2 L281.3 855.5 L282.2 855.2 L283.1 855.8 L284 855.7 L284.9 855 L285.8 855.6 L286.7 854.8 L287.6 854.8 L288.5 855.5 L289.4 855.2 L290.3 855.7 L291.2 855.3 L292.1 855.3 L293 854.4 L293.9 855.3 L294.8 854.2 L295.7 854.9 L296.6 855.2 L297.5 855.2 L298.4 855.1 L298.9 854.5 L299.7 849.4 L300.5 860.4 L301.3 852.3 L302.1 854.2 L302.9 854.8 L303.8 854.6 L304.7 853.9 L305.6 854.3 L306.5 853.7 L307.4 853.4 L308.3 853.9 L309.2 852.9 L310.1 853.9 L311 854 L311.9 853 L312.8 853.8 L313.7 852.5 L314.6 853.5 L315.5 852.6 L316.4 853.4 L317.3 852.6 L318.2 853.2 L319.1 851.8 L320 851.8 L320.9 852.7 L321.8 852.3 L322.7 852.1 L323.6 851.3 L324.5 851.4 L325.4 851.6 L326.3 851 L327.2 852.2 L328.1 851.8 L329 852 L329.9 851.5 L330.8 850.9 L331.7 850.4 L332.6 851.2 L333.5 850.3 L334.4 850.8 L335.3 850.5 L336.2 850.5 L337.1 849.8 L338 849.7 L338.9 850.2 L339.8 849.4 L340.7 850 L341.6 849.4 L342.5 849.5 L343.4 849.2 L344.3 849.7 L345.2 849.3 L346.1 849 L347 848.9 L347.9 849.3 L348.8 849.7 L349.7 848.9 L350.6 848.5 L351.5 848.6 L352.4 848.4 L353.3 848.8 L354.2 849 L355.1 848.6 L356 848 L356.9 848.1 L357.8 848.1 L358.7 848.1 L359.6 847.9 L360.5 848.7 L361.4 848 L362.3 848 L363.2 848 L364.1 847.8 L365 848 L365.9 847.3 L366.8 847.6 L367.7 847.9 L368.6 846.7 L369.5 847.3 L370.4 846.9 L371.3 846.3 L372.2 846.2 L373.1 847.1 L374 846.2 L374.9 846.9 L375.8 846 L376.7 846.3 L377.6 845.7 L378.5 846.3 L379.4 846.6 L380.3 845.7 L381.2 846.1 L382.1 846.6 L383 845.6 L383.9 845.8 L384.8 846 L385.7 846.2 L386.6 845.1 L387.5 845.7 L388.4 844.9 L389.3 844.8 L390.2 846 L391.1 844.6 L392 845.7 L392.9 845.4 L393.8 845.2 L394.7 845.2 L395.6 845.1 L396.5 844.5 L397.4 844.6 L398.3 844.2 L399.2 845.1 L400.1 844.9 L401 844.8 L401.9 844 L402.8 844.4 L403.7 843.9 L404.6 844.6 L405.5 844.4 L406.4 844.7 L407.3 844.2 L408.2 844.1 L409.1 844.2 L410 843.2 L410.9 843.8 L411.8 843 L412.7 843.4 L413.6 843 L414.5 844.1 L415.4 842.7 L416.3 843.9 L417.2 843.9 L418.1 843.1 L419 843.6 L419.9 842.4 L420.8 842.5 L421.7 842.3 L422.6 842.3 L423.5 842.1 L424.4 843.2 L425.3 842.1 L426.2 842.8 L427.1 842.3 L428 842 L428.9 842.4 L429.8 842 L430.7 843 L431.6 842.1 L432.5 842.4 L433.4 842.3 L434.3 842.3 L435.2 842 L436.1 841.7 L437 841.5 L437.9 842.5 L438.8 841.4 L439.7 841.7 L440.6 842.2 L441.5 841.8 L442.4 842.3 L443.3 842 L444.2 841.6 L445.1 841 L446 841.6 L446.9 841.4 L447.8 841.9 L448.7 841.4 L449.6 841.5 L450.5 841.7 L451.4 841.1 L452.3 841.6 L453.2 841.6 L453.6 841.1 L454.7 844 L455.8 836 L456.9 838.9 L458 840.9 L458.6 840.5 L459.5 840.3 L460.4 840.6 L461.3 841.2 L462.2 840.5 L463.1 840 L464 840.4 L464.9 840 L465.8 840.8 L466.7 840.9 L467.6 841.1 L468.5 840 L469.4 840.3 L470.3 840 L471.2 841 L472.1 840.9 L473 840.5 L473.9 841.1 L474.8 840.5 L475.7 840.8 L476.6 840.4 L477.5 840.2 L478.4 841.1 L479.3 840.9 L480.2 840.5 L481.1 840.9 L482 840.6 L482.9 840.8 L483.8 839.8 L484.7 839.9 L485.6 839.9 L486.5 840.6 L487.4 840.8 L488.1 840.5 L489 833.5 L489.9 845.5 L490.8 837.5 L491.7 840.5 L491.9 840.9 L492.8 840 L493.7 841.2 L494.6 840.8 L495.5 840.1 L496.4 840.4 L497.3 840.2 L498.2 841 L499.1 841.3 L500 840.3 L500.9 840.3 L501.8 841 L502.7 841.3 L503.6 841.2 L504.5 840.8 L505.4 840.3 L506.3 841.1 L507.2 840.9 L508.1 841.4 L509 841.1 L509.9 841.4 L510.8 841.8 L511.7 841.3 L512.6 841.7 L513.5 840.9 L514.4 840.5 L515.3 841.8 L516.2 840.7 L517.1 842.1 L518 841.3 L518.9 840.8 L519.8 841.2 L520.7 841.8 L521.6 841.4 L522.5 841.8 L523.4 841.1 L524.3 842.2 L525.2 841.6 L526.1 842.3 L527 841.3 L527.9 842.1 L528.8 841.9 L529.7 841.9 L530.6 841.4 L531.5 842.1 L532.4 842.6 L533.3 841.6 L534.2 842.2 L535.1 841.6 L536 843.1 L536.9 843.1 L537.8 842.7 L538.7 842.5 L539.6 842 L540.5 842.2 L541.4 843.1 L542.3 843.3 L543.2 843.6 L544.1 843.5 L545 843 L545.9 842.8 L546.8 843.3 L547.7 843.1 L548.6 843.4 L549.5 844 L550.4 843.5 L551.3 844.3 L552.2 844 L553.1 843.1 L554 844.2 L554.9 844.1 L555.8 844.1 L556.7 843.4 L557.6 844.6 L558.5 844.2 L559.4 844.3 L560.3 843.9 L561.2 843.7 L562.1 843.8 L563 844.1 L563.9 844.3 L564.8 844.2 L565.7 844.1 L566.6 845.1 L567.5 845.1 L568.4 845.4 L569.3 844.6 L570.2 845.3 L571.1 845.2 L572 844.6 L572.9 845.7 L573.8 845 L574.7 844.9 L575.6 844.9 L576.5 846 L577.4 845.1 L578.3 845.4 L579.2 845.7 L580.1 845.5 L581 845.9 L581.9 845.2 L582.8 845.7 L583.7 846 L584.6 846.1 L585.5 846.2 L586.4 845.8 L587.3 846.4 L588.2 846.9 L589.1 846.3 L590 846.6 L590.9 846.9 L591.8 846.2 L592.7 846.2 L593.6 847.3 L594.5 846.4 L595.4 846.7 L596.3 846.7 L597.2 847.6 L598.1 847.1 L599 847.7 L599.9 846.7 L600.8 847 L601.7 847.6 L602.6 847.2 L603.5 847.8 L604.4 847.7 L605.3 847.2 L606.2 847.3 L607.1 847.9 L608 848.1 L608.9 847.7 L609.8 847.9 L610.7 847.7 L611.6 848.2 L612.5 848.3 L613.4 848.6 L614.3 849 L615.2 849.5 L616.1 849.4 L617 849.5 L617.9 849 L618.8 849.5 L619.7 849.9 L620.6 850.3 L621.5 849.5 L622.4 849.3 L623.3 849.5 L624.2 850.2 L625.1 850.9 L626 850 L626.9 851 L627.8 850.9 L628.7 851.3 L629.6 851.5 L630.5 850.5 L631.4 851.6 L632.3 850.8 L633.2 850.9 L634.1 851.4 L635 851.7 L635.9 851.2 L636.8 851.6 L637.7 851.6 L638.6 851.7 L639.5 851.7 L640.4 851.7 L641.3 852.1 L642.2 852.4 L643.1 852.7 L644 853.2 L644.9 853.2 L645.8 853.2 L646.7 853.1 L647.6 853.6 L648.5 853.1 L649.4 853.2" fill="none" stroke="#9000b0" stroke-width="3.6" stroke-linejoin="round" stroke-linecap="round" clip-path="url(#clipb)"/>
<path d="M113.3 774.5 L113.5 775.9 L113.7 777.7 L114 779.9 L114.3 782.3 L114.7 784.7 L115 787 L115.3 788.9 L115.6 790.6 L115.9 792.3 L116.2 794.3 L116.6 796.8 L117 800 L117.5 804.1 L118 809 L118.6 814.4 L119.1 820.1 L119.7 825.9 L120.3 831.5 L120.9 837.1 L121.4 842.8 L122 848.5 L122.6 854.3 L123.1 860.1 L123.7 865.9 L124.3 871.7 L124.8 877.7 L125.4 883.6 L126 889.4 L126.6 895 L127.2 900.2 L127.9 905.1 L128.5 909.7 L129.2 914.2 L129.9 918.4 L130.7 922.3 L131.5 926 L132.4 929.5 L133.3 932.7 L134.3 935.7 L135.4 938.4 L136.4 940.9 L137.5 943.2 L138.6 945.2 L139.7 946.9 L140.9 948.3 L142.1 949.6 L143.2 950.7 L144.3 951.8 L145.4 952.7 L146.5 953.5 L147.6 954.2 L148.6 954.7 L149.4 955.2 L150 955.5" fill="none" stroke="#999900" stroke-width="3.6" stroke-linejoin="round" stroke-linecap="round" clip-path="url(#clipb)"/>
<path d="M150 955.4 L150.9 955.6 L151.8 956.2 L152.7 955.4 L153.6 955.5 L154.5 955.7 L155.4 955.1 L156.3 955.7 L157.2 956 L158.1 956.3 L159 955.3 L159.9 955.7 L160.8 955.5 L161.7 956.8 L162.6 956.7 L163.5 955.8 L164.4 957.4 L165.3 957.5 L166.2 957.2 L167.1 957.2 L168 956.6 L168.9 956.6 L169.8 957.5 L170.7 956.9 L171.6 957.3 L172.5 957.5 L173.4 957.3 L174.3 958.2 L175.2 958.3 L176.1 959.1 L177 958.8 L177.9 959.1 L178.8 959.1 L179.7 959.5 L180.6 959.3 L181.5 959.2 L182.4 960.5 L183.3 960.7 L184.2 960.6 L185.1 960.5 L186 960.1 L186.9 960.1 L187.8 960.3 L188.7 960.1 L189.6 961.4 L190.5 960.9 L191.4 961.8 L192.3 961.2 L193.2 962.2 L194.1 962.2 L195 960.9 L195.9 961.4 L196.8 962.6 L197.7 962 L198.6 963 L199.5 962.1 L200.4 961.7 L201.3 962.7 L202.2 963 L203.1 962.3 L204 962.1 L204.9 962.5 L205.8 963.6 L206.7 963.3 L207.6 962.4 L208.5 962.6 L209.4 962.4 L210.3 962.4 L211.2 963.6 L212.1 962.7 L213 963.3 L213.9 963.2 L214.8 962.8 L215.7 963.7 L216.6 962.8 L217.5 963.7 L218.4 962.8 L219.3 963.4 L220.2 963.1 L221.1 963.2 L222 964.3 L222.9 964.1 L223.8 963.3 L224.7 964.3 L225.6 963.2 L226.5 963.5 L227.4 964.3 L228.3 964 L229.2 963.1 L230.1 964.6 L231 963.3 L231.9 963.4 L232.8 964.3 L233.7 963.6 L234.6 963.6 L235.5 963.2 L236.4 963.3 L237.3 964.1 L238.2 963.6 L239.1 964.1 L240 963.8 L240.9 963.9 L241.8 964.8 L242.7 964 L243.6 964.2 L244.5 964.7 L245.4 963.6 L246.3 963.6 L247.2 964.8 L248.1 964.7 L249 963.8 L249.9 963.7 L250.8 964.6 L251.7 964.9 L252.6 963.7 L253.5 964.9 L254.4 964.9 L255.3 964.4 L256.2 964.1 L257.1 963.6 L258 963.5 L258.9 965 L259.8 963.9 L260.7 964.6 L261.6 963.9 L262.5 964.9 L263.4 964.5 L264.3 964 L265.2 963.9 L266.1 964.7 L267 963.7 L267.9 964 L268.8 964.5 L269.7 965 L270.6 964.6 L271.5 964.1 L272.4 965.1 L273.3 964 L274.2 963.7 L275.1 964.1 L276 964.4 L276.9 963.8 L277.8 964 L278.7 964.3 L279.6 964.6 L280.5 963.9 L281.4 964.3 L282.3 965.1 L283.2 965.3 L284.1 964.8 L285 964.8 L285.9 964.7 L286.8 964 L287.7 963.8 L288.6 963.8 L289.5 965.2 L290.4 964.9 L291.3 965.3 L292.2 963.8 L293.1 964.8 L294 964.5 L294.9 964.9 L295.8 964.3 L296.7 965.4 L297.6 963.9 L298.5 964.6 L299.4 964.9 L299.5 964.6 L300.2 961 L301 958.6 L301.8 961.6 L302.5 964.6 L303 965 L303.9 965.2 L304.8 964.3 L305.7 964.8 L306.6 965.2 L307.5 965.1 L308.4 964.4 L309.3 965 L310.2 965.1 L311.1 964.6 L312 964.7 L312.9 964.3 L313.8 964.6 L314.7 964.7 L315.6 963.8 L316.5 964.7 L317.4 965.2 L318.3 965 L319.2 964.7 L320.1 964.1 L321 964.5 L321.9 964.1 L322.8 963.8 L323.7 964.3 L324.6 963 L325.5 963.9 L326.4 962.6 L327.3 963.4 L328.2 963 L329.1 962.5 L330 963.1 L330.9 962.6 L331.8 962.6 L332.7 963 L333.6 961.7 L334.5 961.2 L335.4 961.5 L336.3 961.9 L337.2 961 L338.1 960.8 L339 961.8 L339.9 961.3 L340.8 960.8 L341.7 961.3 L342.6 960.3 L343.5 960.6 L344.4 959.7 L345.3 959.9 L346.2 960.3 L347.1 960.3 L348 960.1 L348.9 959.2 L349.8 959.3 L350.7 958.7 L351.6 958.3 L352.5 958.7 L353.4 959.1 L354.3 958.9 L355.2 958.5 L356.1 958.8 L357 957.6 L357.9 957.3 L358.8 957.6 L359.7 957.2 L360.6 957 L361.5 957.2 L362.4 957.4 L363.3 957.1 L364.2 956.7 L365.1 957.5 L366 957.6 L366.9 956.7 L367.8 956 L368.7 955.9 L369.6 957.2 L370.5 955.8 L371.4 956.8 L372.3 956.5 L373.2 956 L374.1 956.8 L375 955.5 L375.9 955.6 L376.8 956.1 L377.7 955.3 L378.6 956.6 L379.5 955.6 L380.4 955.4 L381.3 955.2 L382.2 956.1 L383.1 955.8 L384 956 L384.9 956 L385.8 956.2 L386.7 956.5 L387.6 956 L388.5 955.2 L389.4 955.6 L390.3 955.1 L391.2 954.8 L392.1 955.5 L393 955.9 L393.9 955 L394.8 955.1 L395.7 955.2 L396.6 955.8 L397.5 955.5 L398.4 955.6 L399.3 955.8 L400.2 955.3 L401.1 955.9 L402 956.1 L402.9 954.8 L403.8 956.2 L404.7 955.8 L405.6 954.9 L406.5 955.5 L407.4 955.8 L408.3 956.3 L409.2 955.5 L410.1 955.9 L411 956.4 L411.9 956.4 L412.8 956.7 L413.7 956 L414.6 956.4 L415.5 955.8 L416.4 956.7 L417.3 956.9 L418.2 956.8 L419.1 957 L420 956.3 L420.9 957.5 L421.8 957.8 L422.7 957.9 L423.6 957.3 L424.5 957.9 L425.4 957.3 L426.3 958.4 L427.2 958.5 L428.1 957.8 L429 957.6 L429.9 958.4 L430.8 958.8 L431.7 959.3 L432.6 959.1 L433.5 958.6 L434.4 960.1 L435.3 959.1 L436.2 960.6 L437.1 959.8 L438 960.3 L438.9 961.2 L439.8 960.4 L440.7 960.6 L441.6 961.4 L442.5 961.9 L443.4 962.2 L444.3 962.2 L445.2 962.7 L446.1 962.2 L447 963 L447.9 961.8 L448.8 962.2 L449.7 962.8 L450.6 962.6 L451.5 963.4 L452.4 963.4 L453.3 963.3 L454.2 963.9 L455.1 963.6 L456 963.3 L456.9 963.5 L457.8 964.3 L458.7 964.5 L459.6 963.4 L460.5 964.5 L488.8 964 L489.3 961 L489.8 959 L490.3 961.5 L490.8 964" fill="none" stroke="#999900" stroke-width="3.6" stroke-linejoin="round" stroke-linecap="round" clip-path="url(#clipb)"/>
<path d="M121.8 570 L122 577.7 L122.2 588.5 L122.5 601.2 L122.9 614.8 L123.2 628.1 L123.5 640 L123.8 650.3 L124 660 L124.3 669.4 L124.6 678.9 L124.9 689 L125.2 700 L125.6 712.5 L126.1 726.2 L126.6 740.5 L127.1 754.7 L127.6 768.1 L128 780 L128.3 790.4 L128.6 799.9 L128.9 808.6 L129.2 816.7 L129.4 824.2 L129.7 831.5 L130 838.2 L130.3 844.2 L130.5 849.8 L130.8 855.1 L131.2 860.4 L131.5 865.9 L131.9 871.7 L132.2 877.7 L132.6 883.6 L133.1 889.4 L133.5 895 L134 900.2 L134.5 905.1 L135 909.7 L135.6 914.1 L136.2 918.2 L136.8 922.2 L137.5 926 L138.3 929.6 L139.1 933 L140 936.1 L140.9 939.1 L141.8 942 L142.6 944.9 L143.4 947.8 L144.1 950.6 L144.8 953.3 L145.5 955.9 L146.2 958.1 L146.9 960 L147.6 961.5 L148.4 962.6 L149.2 963.4 L149.9 964.1 L150.6 964.6 L151 965" fill="none" stroke="#1592aa" stroke-width="3.6" stroke-linejoin="round" stroke-linecap="round" clip-path="url(#clipb)"/>
<path d="M151 965.2 L151.9 965.3 L152.8 965.3 L153.7 965.4 L154.6 965 L155.5 965.1 L156.4 963.6 L157.3 963.8 L158.2 964 L159.1 963 L160 962.7 L160.9 960.9 L161.8 960.7 L162.7 959.7 L163.6 959.4 L164.5 958.7 L165.4 957.2 L166.3 956.7 L167.2 955.9 L168.1 956 L169 955.1 L169.9 953.6 L170.8 953.9 L171.7 952.5 L172.6 952.8 L173.5 951.7 L174.4 951.1 L175.3 951.9 L176.2 950.5 L177.1 950 L178 950.9 L178.9 952.9 L179.8 952.9 L180.7 953.3 L181.6 949.5 L182.5 946 L183.4 941.9 L184.3 942.6 L185.2 944 L186.1 947.9 L187 949.8 L187.9 947.5 L188.8 943.8 L189.7 939.2 L190.6 937.4 L191.5 938.6 L192.4 942.2 L193.3 945.4 L194.2 944.4 L195.1 943.5 L196 939.3 L196.9 936 L197.8 935.3 L198.7 934.9 L199.6 936.6 L200.5 939.6 L201.4 942.2 L202.3 941.3 L203.2 941.3 L204.1 935.9 L205 934 L205.9 932.8 L206.8 932.6 L207.7 937.6 L208.6 939.6 L209.5 939.9 L210.4 935.5 L211.3 931.3 L212.2 929.2 L213.1 931.4 L214 932.7 L214.9 936.8 L215.8 938.3 L216.7 937.2 L217.6 933 L218.5 929.7 L219.4 927.6 L220.3 927.4 L221.2 927.4 L222.1 931.4 L223 934.3 L223.9 936 L224.8 933.5 L225.7 932.4 L226.6 927.1 L227.5 925.6 L228.4 927.2 L229.3 931.3 L230.2 933.7 L231.1 935.8 L232 932.7 L232.9 928.5 L233.8 925.8 L234.7 925.7 L235.6 928.2 L236.5 931.7 L237.4 935.1 L238.3 935.9 L239.2 932.3 L240.1 929.1 L241 928.3 L241.9 926 L242.8 926.3 L243.7 928.3 L244.6 932.3 L245.5 933.3 L246.4 932.7 L247.3 931.4 L248.2 928.7 L249.1 929 L250 927.9 L250.9 930 L251.8 931.9 L252.7 931.2 L253.6 933.3 L254.5 934 L255.4 932.8 L256.3 932.4 L257.2 929.8 L258.1 929.6 L259 928.2 L259.9 929.7 L260.8 928.7 L261.7 929.8 L262.6 932.2 L263.5 932.9 L264.4 934 L265.3 933.1 L266.2 933 L267.1 932.9 L268 931.2 L268.9 929.6 L269.8 928.7 L270.7 927.3 L271.6 927.5 L272.5 929.2 L273.4 929.7 L274.3 929.7 L275.2 930.1 L276.1 930.2 L277 929.6 L277.9 929.5 L278.8 929.8 L279.7 928.7 L280.6 926.1 L281.5 926 L282.4 925.3 L283.3 924.8 L284.2 925 L285.1 925.9 L286 925.7 L286.9 927.2 L287.8 926.5 L288.7 926.8 L289.6 926.8 L290.5 925.4 L291.4 923.1 L292.3 923.4 L293.2 921.6 L294.1 920.9 L295 919.4 L295.9 921.1 L296.8 921.2 L297.7 923 L298.6 923.1 L298.9 921.5 L299.7 930.3 L300.5 936.1 L301.3 928.4 L302.1 920.7 L302.2 919.6 L303.1 920.1 L304 920.3 L304.9 920.8 L305.8 920 L306.7 921.4 L307.6 921.4 L308.5 920.6 L309.4 920.7 L310.3 920 L311.2 918.5 L312.1 918.3 L313 917.5 L313.9 919.4 L314.8 920 L315.7 919.2 L316.6 919.7 L317.5 919.4 L318.4 918.9 L319.3 916.9 L320.2 917.9 L321.1 917.3 L322 917.6 L322.9 917.4 L323.8 918.3 L324.7 918.9 L325.6 918.6 L326.5 918.5 L327.4 916.3 L328.3 916.1 L329.2 916.4 L330.1 916.7 L331 915.9 L331.9 917.4 L332.8 917.7 L333.7 916.6 L334.6 917.6 L335.5 916.8 L336.4 915.9 L337.3 915.5 L338.2 915.5 L339.1 915.1 L340 915.3 L340.9 915.3 L341.8 916.8 L342.7 916.9 L343.6 917.4 L344.5 917.1 L345.4 915.7 L346.3 916.8 L347.2 914.2 L348.1 915.1 L349 915 L349.9 915.7 L350.8 915.4 L351.7 917.4 L352.6 916.3 L353.5 915.2 L354.4 916.1 L355.3 914.3 L356.2 915.1 L357.1 914.5 L358 915.3 L358.9 916.6 L359.8 916.7 L360.7 916 L361.6 917 L362.5 916.2 L363.4 915.1 L364.3 914 L365.2 914.7 L366.1 914.6 L367 915.7 L367.9 916.1 L368.8 915.7 L369.7 915.4 L370.6 916.7 L371.5 914.2 L372.4 914 L373.3 914.6 L374.2 914.3 L375.1 913.2 L376 914.6 L376.9 915.7 L377.8 914.9 L378.7 915.4 L379.6 915 L380.5 915 L381.4 916.2 L382.3 914.5 L383.2 915.8 L384.1 916 L385 915.9 L385.9 914.9 L386.8 916.5 L387.7 916 L388.6 918.6 L389.5 920.9 L390.4 924 L391.3 921 L392.2 918.9 L393.1 920 L394 921.1 L394.9 925.4 L395.8 925.3 L396.7 923 L397.6 922.2 L398.5 921.2 L399.4 919.4 L400.3 923.5 L401.2 923.6 L402.1 924.7 L403 921.5 L403.9 917.6 L404.8 918.1 L405.7 919.8 L406.6 924.6 L407.5 921.8 L408.4 920.6 L409.3 917.8 L410.2 918.1 L411.1 919.8 L412 922.6 L412.9 920.9 L413.8 921.6 L414.7 917.4 L415.6 917.1 L416.5 917.7 L417.4 920 L418.3 922.2 L419.2 921 L420.1 918.1 L421 917.7 L421.9 917.7 L422.8 917.9 L423.7 920.7 L424.6 921.3 L425.5 920.6 L426.4 920.1 L427.3 918.7 L428.2 917.2 L429.1 919 L430 918.4 L430.9 919.2 L431.8 920 L432.7 920.1 L433.6 919.7 L434.5 920.4 L435.4 918.7 L436.3 918.2 L437.2 919 L438.1 917.5 L439 918.1 L439.9 919.8 L440.8 918.5 L441.7 920.6 L442.6 920.3 L443.5 919.5 L444.4 918.7 L445.3 919.6 L446.2 919.8 L447.1 918.1 L448 919.4 L448.9 920.3 L449.8 920.9 L450.7 921 L451.6 920.8 L452.5 921.8 L453.4 922.3 L454.3 920.9 L455.2 921.7 L456.1 922.9 L457 922.2 L457.9 920.8 L458.8 918 L459.7 918.6 L460.6 918.2 L461.5 917.6 L462.4 916.3 L463.3 914.6 L464.2 916.7 L465.1 915.7 L466 917.5 L466.9 919.2 L467.8 919.4 L468.7 918.6 L469.6 919.1 L470.5 920.5 L471.4 918.3 L472.3 919.1 L473.2 918.5 L474.1 918.1 L475 919.7 L475.9 918.9 L476.8 919.6 L477.7 920.6 L478.6 919.9 L479.5 919.7 L480.4 920.5 L481.3 920.6 L482.2 920.8 L483.1 919.2 L484 920.3 L484.9 920.6 L485.8 921.9 L486.7 921.9 L487.6 923 L488.4 921.3 L489.1 937 L489.9 947.5 L490.6 934.6 L491.4 921.6 L492.1 921.3 L493 921.4 L493.9 922.9 L494.8 922.6 L495.7 923 L496.6 922 L497.5 922.4 L498.4 921.2 L499.3 922 L500.2 921.3 L501.1 920.5 L502 921.1 L502.9 921.9 L503.8 923.3 L504.7 922.2 L505.6 923.4 L506.5 922.9 L507.4 921.1 L508.3 922.1 L509.2 920.5 L510.1 920.7 L511 922.2 L511.9 921.9 L512.8 923.9 L513.7 923.2 L514.6 922.7 L515.5 923.5 L516.4 921.2 L517.3 922.5 L518.2 920.7 L519.1 921 L520 923.4 L520.9 923.2 L521.8 922.6 L522.7 922.6 L523.6 924.6 L524.5 923.5 L525.4 923.4 L526.3 921.4 L527.2 922.4 L528.1 921.9 L529 922 L529.9 922.8 L530.8 923.9 L531.7 923.5 L532.6 923.5 L533.5 922.6 L534.4 923.8 L535.3 923 L536.2 923.3 L537.1 922.6 L538 924 L538.9 923.7 L539.8 924.4 L540.7 924.6 L541.6 924.9 L542.5 923.8 L543.4 922.6 L544.3 922.1 L545.2 922.4 L546.1 922.2 L547 924.7 L547.9 924.3 L548.8 925.4 L549.7 923.9 L550.6 924.9 L551.5 925.6 L552.4 924.5 L553.3 923.7 L554.2 923.7 L555.1 923 L556 923.6 L556.9 924.2 L557.8 925.2 L558.7 925.4 L559.6 926.5 L560.5 924.5 L561.4 924.3 L562.3 924 L563.2 923.6 L564.1 924.1 L565 924.5 L565.9 925.6 L566.8 925 L567.7 927.4 L568.6 926 L569.5 927 L570.4 926 L571.3 925.7 L572.2 925.1 L573.1 926.4 L574 924.9 L574.9 926.8 L575.8 926.4 L576.7 927.5 L577.6 927.6 L578.5 925.9 L579.4 925.6 L580.3 924.8 L581.2 925.2 L582.1 925.1 L583 926.3 L583.9 928.3 L584.8 927.3 L585.7 927.4 L586.6 927.7 L587.5 926.9 L588.4 927.5 L589.3 927.2 L590.2 925.8 L591.1 926.2 L592 927.7 L592.9 928.9 L593.8 928.6 L594.7 928.3 L595.6 929.5 L596.5 926.8 L597.4 926.5 L598.3 927.9 L599.2 926.9 L600.1 926.3 L601 927.9 L601.9 929.5 L602.8 928.8 L603.7 928.6 L604.6 927.8 L605.5 927.4 L606.4 928.9 L607.3 927.6 L608.2 928.5 L609.1 926.6 L610 927.5 L610.9 927.5 L611.8 928.7 L612.7 928 L613.6 928.3 L614.5 928.2 L615.4 927.4 L616.3 926.4 L617.2 926.2 L618.1 928.6 L619 927.1 L619.9 928.3 L620.8 928.4 L621.7 928.8 L622.6 927.5 L623.5 927.5 L624.4 926.5 L625.3 927.1 L626.2 927.8 L627.1 927.2 L628 928.1 L628.9 927 L629.8 926.8 L630.7 928.1 L631.6 927.7 L632.5 927.4 L633.4 926.4 L634.3 926.5 L635.2 926.6 L636.1 927.1 L637 926 L637.9 926.8 L638.8 928 L639.7 926.6 L640.6 926.2 L641.5 926.2 L642.4 925.2 L643.3 926.5 L644.2 926.5 L645.1 925.6 L646 925.6 L646.9 926.1 L647.8 926.9 L648.7 926.7" fill="none" stroke="#1592aa" stroke-width="3.6" stroke-linejoin="round" stroke-linecap="round" clip-path="url(#clipb)"/>
<path d="M117.3 570 L117.6 574.2 L118 580 L118.4 586.9 L118.9 594.4 L119.5 602.3 L120 610 L120.5 617.9 L121.1 626.3 L121.7 635 L122.3 643.7 L122.9 652.1 L123.5 660 L124.1 667.2 L124.7 674.1 L125.3 680.6 L125.9 687 L126.4 693.4 L127 700 L127.5 706.6 L128 713.2 L128.4 719.8 L128.9 726.4 L129.4 733.1 L130 740 L130.7 747.4 L131.5 755.5 L132.3 763.6 L133.1 771.3 L133.9 778.3 L134.7 784 L135.4 788.2 L136 791.2 L136.7 793.5 L137.3 795.3 L138 796.9 L138.7 798.8 L139.5 800.9 L140.3 802.9 L141.2 804.7 L142.2 806.5 L143.1 808.1 L144.1 809.5 L145.2 810.7 L146.3 811.8 L147.5 812.7 L148.6 813.5 L149.7 814.3 L150.8 814.9 L151.8 815.5 L152.8 815.9 L153.7 816.2 L154.6 816.5 L155.4 816.7 L156.1 816.9 L156.7 817 L157.2 817.1 L157.6 817.1 L158 817 L158.3 817 L158.5 817" fill="none" stroke="#ff00ff" stroke-width="3.6" stroke-linejoin="round" stroke-linecap="round" clip-path="url(#clipb)"/>
<path d="M158.5 816.9 L159.4 816.4 L160.3 815.6 L161.2 816.2 L162.1 814.6 L163 814.9 L163.9 815 L164.8 813.5 L165.7 813.8 L166.6 813.4 L167.5 812.2 L168.4 812.3 L169.3 812.3 L170.2 811.6 L171.1 811.6 L172 810.5 L172.9 810.3 L173.8 809.8 L174.7 810.1 L175.6 810.4 L176.5 809.7 L177.4 809.6 L178.3 808.8 L179.2 809 L180.1 807.8 L181 807.8 L181.9 808.1 L182.8 807.9 L183.7 807.2 L184.6 806.5 L185.5 806.6 L186.4 806.3 L187.3 806.2 L188.2 806.8 L189.1 805.7 L190 806.6 L190.9 806.4 L191.8 805.1 L192.7 805.5 L193.6 805.6 L194.5 804.8 L195.4 805.4 L196.3 806 L197.2 804.8 L198.1 805.5 L199 804.8 L199.9 805.4 L200.8 805.8 L201.7 804.8 L202.6 804.6 L203.5 804.7 L204.4 805.3 L205.3 804.6 L206.2 804.7 L207.1 805.3 L208 805.9 L208.9 805.2 L209.8 805.2 L210.7 805.5 L211.6 804.8 L212.5 805.5 L213.4 804.9 L214.3 805.6 L215.2 806.1 L216.1 804.8 L217 805.6 L217.9 805.7 L218.8 805.1 L219.7 805.3 L220.6 806.3 L221.5 806.4 L222.4 805.2 L223.3 806 L224.2 806.4 L225.1 805.4 L226 806 L226.9 805.2 L227.8 805.7 L228.7 806.2 L229.6 806.1 L230.5 806.4 L231.4 805.5 L232.3 805.9 L233.2 806.7 L234.1 806.3 L235 806.2 L235.9 806.2 L236.8 807.1 L237.7 806.6 L238.6 805.9 L239.5 807 L240.4 806.4 L241.3 806.7 L242.2 806.4 L243.1 806.8 L244 806.8 L244.9 806.5 L245.8 807.4 L246.7 806.7 L247.6 807.7 L248.5 806.8 L249.4 807.9 L250.3 808 L251.2 807.7 L252.1 808.1 L253 807.5 L253.9 808.2 L254.8 807.9 L255.7 807.7 L256.6 808.8 L257.5 808.1 L258.4 808.1 L259.3 808.9 L260.2 808.3 L261.1 808.8 L262 808.2 L262.9 809.2 L263.8 808.5 L264.7 808.3 L265.6 809.7 L266.5 808.6 L267.4 809.8 L268.3 809.9 L269.2 809.5 L270.1 808.7 L271 808.8 L271.9 809.1 L272.8 809.3 L273.7 809.7 L274.6 810.2 L275.5 809.3 L276.4 809 L277.3 809.6 L278.2 808.9 L279.1 808.8 L280 809.3 L280.9 809.4 L281.8 808.4 L282.7 808.8 L283.6 809 L284.5 809 L285.4 808.3 L286.3 808.8 L287.2 807.6 L288.1 808.2 L289 808.1 L289.9 808.1 L290.8 807.5 L291.7 806.8 L292.6 806.6 L293.5 807.1 L294.4 806.5 L295.3 807.1 L296.2 806.2 L297.1 807.1 L298 806.3 L298.9 805.9 L298.9 806.6 L299.7 802.5 L300.5 816.5 L301.3 809.4 L302.1 806.4 L302.5 806.2 L303.4 805.9 L304.3 806.2 L305.2 806.9 L306.1 806.2 L307 806.8 L307.9 805.5 L308.8 806.8 L309.7 806.6 L310.6 806.1 L311.5 806 L312.4 806 L313.3 806.5 L314.2 805.3 L315.1 806.1 L316 805.9 L316.9 805.5 L317.8 806.1 L318.7 806.1 L319.6 805.2 L320.5 806 L321.4 805.6 L322.3 805.6 L323.2 805.8 L324.1 805 L325 805.7 L325.9 805.4 L326.8 806.1 L327.7 805.1 L328.6 805.9 L329.5 805.8 L330.4 805.6 L331.3 806 L332.2 804.8 L333.1 805.5 L334 805.5 L334.9 805.6 L335.8 805.2 L336.7 804.7 L337.6 804.9 L338.5 805.4 L339.4 804.8 L340.3 804.6 L341.2 805 L342.1 805.1 L343 805.2 L343.9 804.5 L344.8 805.5 L345.7 804.9 L346.6 805.5 L347.5 804.4 L348.4 805.7 L349.3 805.1 L350.2 805.7 L351.1 805.7 L352 805.4 L352.9 804.4 L353.8 804.7 L354.7 804.5 L355.6 805.3 L356.5 804.4 L357.4 804.4 L358.3 804.2 L359.2 804.2 L360.1 805.4 L361 805.4 L361.9 804.5 L362.8 805 L363.7 804.6 L364.6 804.7 L365.5 804.4 L366.4 804.8 L367.3 804.2 L368.2 804.2 L369.1 804.6 L370 804.1 L370.9 804.4 L371.8 805.1 L372.7 803.8 L373.6 803.9 L374.5 804.8 L375.4 803.8 L376.3 804 L377.2 804.8 L378.1 804.5 L379 803.9 L379.9 803.7 L380.8 804 L381.7 804 L382.6 804.7 L383.5 804.9 L384.4 804.6 L385.3 804.8 L386.2 804.8 L387.1 804.7 L388 804.7 L388.9 804.8 L389.8 803.6 L390.7 803.9 L391.6 803.7 L392.5 804.2 L393.4 804.1 L394.3 803.8 L395.2 804.5 L396.1 803.9 L397 803.6 L397.9 803.7 L398.8 804 L399.7 804.2 L400.6 804.1 L401.5 803.9 L402.4 803.5 L403.3 803.8 L404.2 803.7 L405.1 803.5 L406 804 L406.9 803.5 L407.8 804.2 L408.7 804.2 L409.6 803.4 L410.5 804.1 L411.4 803.7 L412.3 803.9 L413.2 804.1 L414.1 804.3 L415 804.5 L415.9 804.2 L416.8 803.5 L417.7 804 L418.6 803.7 L419.5 803.2 L420.4 804 L421.3 803.9 L422.2 804.4 L423.1 803.7 L424 804.4 L424.9 803.9 L425.8 803.3 L426.7 804.2 L427.6 803.6 L428.5 804 L429.4 803.3 L430.3 803.2 L431.2 804.5 L432.1 803.3 L433 803.4 L433.9 803.4 L434.8 803.4 L435.7 804.4 L436.6 804.6 L437.5 804.1 L438.4 803.8 L439.3 804.5 L440.2 803.9 L441.1 803.4 L442 804.2 L442.9 803.7 L443.8 803.6 L444.7 803.7 L445.6 803.8 L446.5 803.5 L447.4 804.1 L448.3 804.5 L449.2 804.1 L450.1 803.3 L451 804.2 L451.9 803.3 L452.8 804 L453.6 804 L454.7 807 L455.8 799 L456.9 803 L458 804 L458.2 803.5 L459.1 804 L460 804.3 L460.9 803.7 L461.8 803.8 L462.7 804.4 L463.6 803.9 L464.5 804.3 L465.4 804.2 L466.3 804.8 L467.2 803.5 L468.1 803.8 L469 804.6 L469.9 804.5 L470.8 803.7 L471.7 803.8 L472.6 804 L473.5 804.4 L474.4 805 L475.3 804 L476.2 804 L477.1 804.7 L478 804.4 L478.9 805 L479.8 805.2 L480.7 805.1 L481.6 804.8 L482.5 804.5 L483.4 803.9 L484.3 805 L485.2 804.4 L486.1 804.5 L487 804.7 L487.9 805.2 L488.1 804.5 L489 796.5 L489.9 811.5 L490.8 800.5 L491.7 804.5 L492.4 804.3 L493.3 805 L494.2 804.8 L495.1 805.1 L496 804 L496.9 804.4 L497.8 805 L498.7 804.4 L499.6 804.6 L500.5 805 L501.4 803.9 L502.3 803.7 L503.2 804.8 L504.1 804.4 L505 803.8 L505.9 804.7 L506.8 803.9 L507.7 803.7 L508.6 803.9 L509.5 803.5 L510.4 804 L511.3 804.5 L512.2 804 L513.1 804.7 L514 803.4 L514.9 803.6 L515.8 803.5 L516.7 804.1 L517.6 803.6 L518.5 804.2 L519.4 804 L520.3 804 L521.2 804.4 L522.1 804.3 L523 804.4 L523.9 803.3 L524.8 803.6 L525.7 804.4 L526.6 803.6 L527.5 803.4 L528.4 803.7 L529.3 803.3 L530.2 804.2 L531.1 803.8 L532 803.1 L532.9 804.3 L533.8 803.6 L534.7 803.2 L535.6 803.7 L536.5 804.2 L537.4 803.3 L538.3 802.8 L539.2 803 L540.1 802.8 L541 803.5 L541.9 803.1 L542.8 803.9 L543.7 802.9 L544.6 802.7 L545.5 803.3 L546.4 802.8 L547.3 803 L548.2 802.9 L549.1 802.8 L550 803.4 L550.9 803.8 L551.8 803 L552.7 803.3 L553.6 802.9 L554.5 803.7 L555.4 803.2 L556.3 802.4 L557.2 803.4 L558.1 802.6 L559 802.4 L559.9 802.3 L560.8 803.5 L561.7 803.3 L562.6 802.8 L563.5 803 L564.4 803.2 L565.3 802.3 L566.2 803.2 L567.1 803.2 L568 803.5 L568.9 802.2 L569.8 802.9 L570.7 802.8 L571.6 803.3 L572.5 802.6 L573.4 803 L574.3 803.3 L575.2 802.5 L576.1 802.8 L577 803.3 L577.9 802.1 L578.8 803.4 L579.7 802.4 L580.6 802.6 L581.5 802.4 L582.4 803.1 L583.3 802.7 L584.2 803 L585.1 802.1 L586 803.2 L586.9 803.1 L587.8 802.9 L588.7 802.2 L589.6 802.3 L590.5 802.5 L591.4 802 L592.3 803.2 L593.2 802.4 L594.1 803.2 L595 802.1 L595.9 802.8 L596.8 803 L597.7 802.7 L598.6 802.4 L599.5 801.8 L600.4 802.4 L601.3 802.3 L602.2 803.1 L603.1 803.1 L604 803.1 L604.9 803.1 L605.8 802 L606.7 801.8 L607.6 802.1 L608.5 801.7 L609.4 801.9 L610.3 802.5 L611.2 802 L612.1 802.5 L613 802.2 L613.9 802 L614.8 803 L615.7 801.9 L616.6 802.9 L617.5 802.4 L618.4 802.5 L619.3 801.8 L620.2 802.6 L621.1 802.8 L622 801.8 L622.9 802.2 L623.8 802.5 L624.7 802.2 L625.6 802.6 L626.5 802.4 L627.4 802 L628.3 802.5 L629.2 802.6 L630.1 802.1 L631 802.3 L631.9 802.4 L632.8 802.1 L633.7 801.6 L634.6 802 L635.5 802.5 L636.4 802.4 L637.3 801.5 L638.2 802.1 L639.1 802.2 L640 802.1 L640.9 801.6 L641.8 802.3 L642.7 802.3 L643.6 802.1 L644.5 802.7 L645.4 802.1 L646.3 801.3 L647.2 801.7 L648.1 802.3 L649 801.4" fill="none" stroke="#ff00ff" stroke-width="3.6" stroke-linejoin="round" stroke-linecap="round" clip-path="url(#clipb)"/>
<path d="M135.2 570 L135.4 577.7 L135.8 588.5 L136.2 601.2 L136.6 614.8 L137.1 628.1 L137.5 640 L137.9 650.9 L138.4 661.9 L138.9 672.5 L139.4 682.6 L139.8 691.9 L140.2 700 L140.5 706.8 L140.8 712.3 L141.1 717 L141.4 721.3 L141.7 725.5 L142 730 L142.4 734.9 L142.8 739.9 L143.2 744.9 L143.7 749.7 L144.1 754.1 L144.5 758 L144.9 761.4 L145.2 764.2 L145.6 766.8 L145.9 769.1 L146.3 771.3 L146.8 773.4 L147.4 775.5 L148 777.5 L148.7 779.3 L149.4 781 L150.1 782.6 L150.8 784.1 L151.5 785.5 L152.2 786.8 L153 788 L153.7 789 L154.3 789.9 L154.8 790.6 L155.2 791 L155.5 791.2 L155.7 791.2 L155.8 791.1 L155.9 791 L156 791" fill="none" stroke="#008c00" stroke-width="3.6" stroke-linejoin="round" stroke-linecap="round" clip-path="url(#clipb)"/>
<path d="M156 791.1 L156.7 790.4 L157.4 790.3 L158.1 789.1 L158.8 789.9 L159.5 789.5 L160.2 788.7 L160.9 787.3 L161.6 787.5 L162.3 786.6 L163 786 L163.7 786.8 L164.4 786.3 L165.1 783.8 L165.8 784.7 L166.5 783.4 L167.2 782.2 L167.9 781.1 L168.6 781 L169.3 779.7 L170 779.2 L170.7 778.2 L171.4 776.3 L172.1 776.6 L172.8 776.2 L173.5 775.3 L174.2 773.6 L174.9 771.6 L175.6 770.6 L176.3 770 L177 770.7 L177.7 768.6 L178.4 768 L179.1 768.3 L179.8 766.5 L180.5 766.2 L181.2 765.4 L181.9 764 L182.6 764.3 L183.3 764.2 L184 762.1 L184.7 761.5 L185.4 761.2 L186.1 763.8 L186.8 763.4 L187.5 760.3 L188.2 755.9 L188.9 753.3 L189.6 754.4 L190.3 755.6 L191 758.9 L191.7 759.1 L192.4 757.3 L193.1 752.4 L193.8 749.9 L194.5 747.1 L195.2 748.4 L195.9 752.5 L196.6 755.4 L197.3 755 L198 752.7 L198.7 748.5 L199.4 744.9 L200.1 744 L200.8 744.3 L201.5 747.1 L202.2 750.6 L202.9 751 L203.6 750.1 L204.3 746.6 L205 742.5 L205.7 739.4 L206.4 739.2 L207.1 741.7 L207.8 744.1 L208.5 747.6 L209.2 746.7 L209.9 744 L210.6 739.5 L211.3 736.4 L212 734.9 L212.7 735.3 L213.4 738.9 L214.1 741.8 L214.8 743.2 L215.5 743.5 L216.2 741.8 L216.9 737.2 L217.6 733.7 L218.3 730.8 L219 732 L219.7 734.4 L220.4 737.7 L221.1 740.5 L221.8 741.8 L222.5 740.4 L223.2 737.3 L223.9 733 L224.6 730.6 L225.3 730.5 L226 730.6 L226.7 732.8 L227.4 736.2 L228.1 739.8 L228.8 739.9 L229.5 738.8 L230.2 736 L230.9 733.2 L231.6 731.3 L232.3 729 L233 729.6 L233.7 731.9 L234.4 735.3 L235.1 738.3 L235.8 740.9 L236.5 741.4 L237.2 739.6 L237.9 736.4 L238.6 733.7 L239.3 731.8 L240 729.4 L240.7 730.3 L241.4 733.2 L242.1 736.5 L242.8 739.6 L243.5 741.9 L244.2 743.3 L244.9 742 L245.6 740.5 L246.3 738 L247 734.4 L247.7 733.3 L248.4 732.5 L249.1 733.5 L249.8 733.8 L250.5 737.9 L251.2 740.1 L251.9 742.4 L252.6 743.5 L253.3 742.1 L254 741.7 L254.7 738.9 L255.4 737.6 L256.1 736.3 L256.8 733.7 L257.5 733.6 L258.2 733.5 L258.9 734.9 L259.6 736.6 L260.3 738.1 L261 741.2 L261.7 742 L262.4 738.6 L263.1 738.5 L263.8 737.5 L264.5 736.5 L265.2 736 L265.9 736.8 L266.6 737 L267.3 737 L268 737.8 L268.7 738.7 L269.4 738.6 L270.1 737 L270.8 737.2 L271.5 737 L272.2 736.3 L272.9 735.4 L273.6 734.1 L274.3 735.5 L275 735.4 L275.7 735.9 L276.4 736.8 L277.1 737.3 L277.8 737.5 L278.5 736.5 L279.2 734.8 L279.9 735.1 L280.6 734.3 L281.3 734.3 L282 734.2 L282.7 735.3 L283.4 735.8 L284.1 737.2 L284.8 736.8 L285.5 736.5 L286.2 736 L286.9 735.2 L287.6 735.1 L288.3 734.9 L289 735.2 L289.7 734.7 L290.4 736.5 L291.1 737.8 L291.8 738.6 L292.5 738.3 L293.2 736.7 L293.9 738.2 L294.6 737.5 L295.3 735 L296 735.4 L296.7 735.4 L297.4 736.9 L298.1 737.3 L298.8 737.4 L298.8 737.6 L299.6 734.7 L300.4 759.8 L301.2 741.9 L302 738.1 L302.3 739.2 L303 736.9 L303.7 737.7 L304.4 738.1 L305.1 736.6 L305.8 738.2 L306.5 738.8 L307.2 740.9 L307.9 741.1 L308.6 739.2 L309.3 739.3 L310 740.2 L310.7 738.9 L311.4 738.2 L312.1 738.7 L312.8 738.9 L313.5 739.9 L314.2 739.3 L314.9 739.4 L315.6 741.5 L316.3 740.2 L317 741.2 L317.7 741.3 L318.4 739.5 L319.1 739.4 L319.8 738 L320.5 738.1 L321.2 739.7 L321.9 741.1 L322.6 742.2 L323.3 740.5 L324 742.9 L324.7 741.7 L325.4 740.7 L326.1 740.1 L326.8 739.8 L327.5 738.8 L328.2 738.3 L328.9 740.4 L329.6 740.7 L330.3 741.2 L331 742.1 L331.7 743.1 L332.4 741 L333.1 742.1 L333.8 741.5 L334.5 739.7 L335.2 739.8 L335.9 739.5 L336.6 739.3 L337.3 740.7 L338 740.9 L338.7 743.7 L339.4 742.4 L340.1 743.6 L340.8 743.2 L341.5 743.7 L342.2 742.7 L342.9 741.3 L343.6 741.3 L344.3 741 L345 741.8 L345.7 743.4 L346.4 745.9 L347.1 744.4 L347.8 745 L348.5 746 L349.2 745 L349.9 744 L350.6 745.5 L351.3 743.3 L352 745.1 L352.7 745.5 L353.4 746.3 L354.1 747 L354.8 747.7 L355.5 748.7 L356.2 749.6 L356.9 748.6 L357.6 748.8 L358.3 748.6 L359 746.8 L359.7 748.7 L360.4 748.7 L361.1 749.2 L361.8 750.4 L362.5 752.1 L363.2 751.4 L363.9 750.7 L364.6 752.4 L365.3 749.8 L366 749.3 L366.7 750.5 L367.4 749.6 L368.1 750.1 L368.8 751.8 L369.5 753.4 L370.2 752.9 L370.9 754.8 L371.6 754.2 L372.3 753.9 L373 753.2 L373.7 751.4 L374.4 751.4 L375.1 752.6 L375.8 753.1 L376.5 752.5 L377.2 754.7 L377.9 755.3 L378.6 756.1 L379.3 755.9 L380 755.3 L380.7 755.1 L381.4 756.1 L382.1 753.8 L382.8 755.4 L383.5 755.1 L384.2 754.8 L384.9 757.7 L385.6 756.8 L386.3 759.6 L387 758.9 L387.7 760.4 L388.4 759.7 L389.1 758.6 L389.8 759.1 L390.5 759.7 L391.2 758.8 L391.9 762.8 L392.6 765.7 L393.3 768.2 L394 763.8 L394.7 762.1 L395.4 763.9 L396.1 766 L396.8 768.2 L397.5 770.3 L398.2 767.2 L398.9 764.7 L399.6 763 L400.3 763.3 L401 768.7 L401.7 772.4 L402.4 769.8 L403.1 769.9 L403.8 765.8 L404.5 765.8 L405.2 767.2 L405.9 769.4 L406.6 773.2 L407.3 772.7 L408 769.1 L408.7 768 L409.4 766.7 L410.1 766.7 L410.8 767.8 L411.5 772.9 L412.2 773 L412.9 772.3 L413.6 768.2 L414.3 765.4 L415 767 L415.7 769.1 L416.4 772.6 L417.1 771.7 L417.8 769.6 L418.5 768.9 L419.2 765.8 L419.9 766.6 L420.6 769.1 L421.3 773.8 L422 774.4 L422.7 772.3 L423.4 768.6 L424.1 767.6 L424.8 769.1 L425.5 769.1 L426.2 769.1 L426.9 769.5 L427.6 769.3 L428.3 769.5 L429 769.8 L429.7 769.8 L430.4 769.3 L431.1 769.8 L431.8 770.8 L432.5 770.2 L433.2 771.1 L433.9 769.7 L434.6 770.2 L435.3 768.6 L436 768.9 L436.7 770.1 L437.4 768.5 L438.1 769.8 L438.8 768.6 L439.5 770.3 L440.2 770.3 L440.9 771.7 L441.6 771.7 L442.3 771.7 L443 770.7 L443.7 771.4 L444.4 770 L445.1 770.6 L445.8 770.1 L446.5 770.1 L447.2 769.6 L447.9 769.5 L448.6 770.3 L449.3 770.9 L450 771 L450.7 772.3 L451.4 771.7 L452.1 770.9 L452.8 772.2 L453.5 771.5 L454.2 772.9 L454.9 770.7 L455.6 771.3 L456.3 771.6 L457 772.1 L457.7 770.9 L458.4 770.6 L459.1 771.7 L459.8 772 L460.5 772.7 L461.2 772.5 L461.9 771.4 L462.6 773.7 L463.3 773.7 L464 772.5 L464.7 773 L465.4 773.2 L466.1 773.2 L466.8 772.5 L467.5 770.8 L468.2 770.6 L468.9 771.4 L469.6 771.8 L470.3 771.7 L471 773.1 L471.7 773.4 L472.4 772.9 L473.1 773.8 L473.8 772.7 L474.5 774.5 L475.2 772.7 L475.9 772.3 L476.6 772.6 L477.3 773.5 L478 772.7 L478.7 772.8 L479.4 773.2 L480.1 772.3 L480.8 773.9 L481.5 774.3 L482.2 773.6 L482.9 774.4 L483.6 774.9 L484.3 774.4 L485 773.3 L485.7 774.4 L486.4 773.7 L487.1 774.5 L487.8 772.7 L488.2 773.8 L489 767.9 L489.8 791 L490.6 777.1 L491.4 774.2 L492 773.9 L492.7 775 L493.4 774.5 L494.1 775.7 L494.8 775.8 L495.5 775.1 L496.2 776.8 L496.9 776.3 L497.6 776.8 L498.3 776.8 L499 774.7 L499.7 776.3 L500.4 775.8 L501.1 776.9 L501.8 775.4 L502.5 777.5 L503.2 776.8 L503.9 776.3 L504.6 777.4 L505.3 778.5 L506 776.6 L506.7 777.1 L507.4 776.2 L508.1 775.8 L508.8 777.5 L509.5 776.7 L510.2 776.6 L510.9 777.5 L511.6 775.7 L512.3 778 L513 777.8 L513.7 778.4 L514.4 778.6 L515.1 777.8 L515.8 777 L516.5 779.3 L517.2 778.2 L517.9 778.2 L518.6 777.9 L519.3 776.7 L520 777.4 L520.7 776.8 L521.4 776.3 L522.1 777.1 L522.8 777.3 L523.5 777.2 L524.2 778.6 L524.9 779.3 L525.6 778.7 L526.3 777.4 L527 778.6 L527.7 778.7 L528.4 778.9 L529.1 777.4 L529.8 777 L530.5 777.1 L531.2 776.5 L531.9 778.1 L532.6 776.4 L533.3 778 L534 778.9 L534.7 777.3 L535.4 777.9 L536.1 780.1 L536.8 778.5 L537.5 779.5 L538.2 777.6 L538.9 778.4 L539.6 777.1 L540.3 777.3 L541 776.6 L541.7 778.1 L542.4 777.6 L543.1 777.5 L543.8 777.9 L544.5 778.8 L545.2 778.1 L545.9 778.1 L546.6 778 L547.3 779.6 L548 779.5 L548.7 778.4 L549.4 778.8 L550.1 779.6 L550.8 778.2 L551.5 778.7 L552.2 777.7 L552.9 778.2 L553.6 778.9 L554.3 779 L555 779.1 L555.7 778.7 L556.4 778.4 L557.1 779.7 L557.8 780.3 L558.5 779.4 L559.2 780.2 L559.9 779.4 L560.6 778.2 L561.3 779.2 L562 779 L562.7 778.5 L563.4 778.3 L564.1 780.4 L564.8 779.7 L565.5 780.4 L566.2 779.2 L566.9 781.2 L567.6 780 L568.3 780.9 L569 780.7 L569.7 780.6 L570.4 781.4 L571.1 779.7 L571.8 781.3 L572.5 781 L573.2 780.2 L573.9 781.2 L574.6 780.7 L575.3 781.9 L576 781.3 L576.7 782.8 L577.4 782.6 L578.1 782.6 L578.8 783.6 L579.5 782.8 L580.2 781.7 L580.9 782.5 L581.6 781.1 L582.3 781.5 L583 782.2 L583.7 780.9 L584.4 781.6 L585.1 781.4 L585.8 782.2 L586.5 782.2 L587.2 783.7 L587.9 784.3 L588.6 783.7 L589.3 784.4 L590 784.5 L590.7 784.5 L591.4 784.3 L592.1 783.8 L592.8 783.8 L593.5 783.7 L594.2 783.2 L594.9 784 L595.6 782.8 L596.3 784.4 L597 784.6 L597.7 784.7 L598.4 785.2 L599.1 786.2 L599.8 786 L600.5 785.7 L601.2 786.1 L601.9 785.8 L602.6 784.3 L603.3 785.4 L604 785.3 L604.7 784.6 L605.4 785.6 L606.1 784 L606.8 785.8 L607.5 784.8 L608.2 785.6 L608.9 786.1 L609.6 786.1 L610.3 786.4 L611 785.4 L611.7 785.1 L612.4 786.5 L613.1 785.2 L613.8 785 L614.5 785.9 L615.2 786.1 L615.9 785.6 L616.6 786.6 L617.3 785.7 L618 787.4 L618.7 787.1 L619.4 787.9 L620.1 788 L620.8 787.8 L621.5 788.3 L622.2 787.7 L622.9 786.8 L623.6 785.8 L624.3 786.2 L625 786.6 L625.7 785.2 L626.4 786.7 L627.1 786.5 L627.8 787 L628.5 786.4 L629.2 786.8 L629.9 788.4 L630.6 787.7 L631.3 787.5 L632 789.2 L632.7 787.1 L633.4 788.4 L634.1 788.5 L634.8 788.5 L635.5 787.8 L636.2 786.4 L636.9 787.5 L637.6 788.8 L638.3 788 L639 788.7 L639.7 789.5 L640.4 789.4 L641.1 789.1 L641.8 789.8 L642.5 789.4 L643.2 789 L643.9 788.1 L644.6 788.4 L645.3 790 L646 788.2 L646.7 788.4 L647.4 790.1 L648.1 788.2 L648.8 788.9 L649.5 789.6" fill="none" stroke="#008c00" stroke-width="3.6" stroke-linejoin="round" stroke-linecap="round" clip-path="url(#clipb)"/>
<text transform="translate(288 724.2) scale(1.0 1)" font-size="18.5" text-anchor="start" fill="#008c00" >PEC 3 h</text>
<text transform="translate(267 791.8) scale(1.0 1)" font-size="18.5" text-anchor="start" fill="#ff00ff" >PEC 1 h</text>
<text transform="translate(223 830) scale(1.0 1)" font-size="18.5" text-anchor="end" fill="#0000ff" >6 h</text>
<text transform="translate(223.6 889.8) scale(1.0 1)" font-size="18.5" text-anchor="end" fill="#990000" >9 h</text>
<text transform="translate(625 874.6) scale(1.0 1)" font-size="18.5" text-anchor="end" fill="#9000b0" >12 h</text>
<text transform="translate(625.5 914.6) scale(1.0 1)" font-size="18.5" text-anchor="end" fill="#1592aa" >24 h</text>
<text transform="translate(150.5 920.8) scale(1.0 1)" font-size="18.5" text-anchor="start" fill="#000" >0 h</text>
<text transform="translate(314.5 946.8) scale(1.0 1)" font-size="18.5" text-anchor="start" fill="#999900" >PC 3 h</text>
<path d="M155.9 928.1L149.4 944.4M171.3 857.6L192.4 879.2" stroke="#000" stroke-width="1.1"/>
<path d="M165.6 589.6V673.4H305.5" fill="none" stroke="#6a6a6a" stroke-width="1.2"/>
<path d="M178.7 673.4v-4.6 M194.4 673.4v-2.8 M210.2 673.4v-4.6 M225.9 673.4v-2.8 M241.6 673.4v-4.6 M257.4 673.4v-2.8 M273.1 673.4v-4.6 M288.8 673.4v-2.8 M304.6 673.4v-4.6 M165.6 599.8h2.8 M165.6 616.6h2.8 M165.6 633.4h2.8 M165.6 650.4h2.8" stroke="#6a6a6a" stroke-width="1.2"/>
<text transform="translate(178.7 690.3) scale(1.0 1)" font-size="13.3" text-anchor="middle" fill="#000" >400</text>
<text transform="translate(210.2 690.3) scale(1.0 1)" font-size="13.3" text-anchor="middle" fill="#000" >500</text>
<text transform="translate(241.6 690.3) scale(1.0 1)" font-size="13.3" text-anchor="middle" fill="#000" >600</text>
<text transform="translate(273.1 690.3) scale(1.0 1)" font-size="13.3" text-anchor="middle" fill="#000" >700</text>
<text transform="translate(304.6 690.3) scale(1.0 1)" font-size="13.3" text-anchor="middle" fill="#000" >800</text>
<text transform="translate(241.8 710.3) scale(1.0 1)" font-size="13.6" text-anchor="middle" fill="#000" >λ (nm)</text>
<text transform="translate(157.2 631.3) rotate(-90)" font-size="14.2" text-anchor="middle">Abs. (a.u.)</text>
<path d="M165.6 672.8 L166.2 671.3 L166.8 668.5 L167.4 665.4 L168 662.1 L168.6 660.7 L169.2 658 L169.8 654.6 L170.4 651.8 L171 648.3 L171.6 644.8 L172.2 642.7 L172.8 640.2 L173.4 635.9 L174 634.6 L174.6 630.2 L175.2 627.1 L175.8 623.6 L176.4 622.8 L177 619.2 L177.6 616.8 L178.2 613.7 L178.8 609.9 L179.4 605.6 L180 604.3 L180.6 603.7 L181.2 607.3 L181.8 604.5 L182.4 600.8 L183 599.2 L183.6 595.1 L184.2 598.3 L184.8 599 L185.4 600.7 L186 599 L186.6 596.7 L187.2 593.4 L187.8 593 L188.4 598.3 L189 599.4 L189.6 602.6 L190.2 599.6 L190.8 599.8 L191.4 598.6 L192 599.7 L192.6 603 L193.2 604.9 L193.8 605.4 L194.4 601.4 L195 600.4 L195.6 601.5 L196.2 601.7 L196.8 606.7 L197.4 607.4 L198 603.9 L198.6 600.3 L199.2 598.1 L199.8 598 L200.4 602.2 L201 602.3 L201.6 601.2 L202.2 599.3 L202.8 599.2 L203.4 599.9 L204 600.6 L204.6 603.8 L204.8 602.2 L205.5 628.7 L206.1 631.1 L206.8 603.4 L207 600.9 L207.6 601.6 L208.2 604.6 L208.8 605.7 L209.4 605.9 L210 604.3 L210.6 605.5 L211.2 604.3 L211.8 605 L212.4 604.5 L213 604.2 L213.6 604.4 L214.2 606.5 L214.8 606.9 L215.4 606.5 L216 607.9 L216.6 608.7 L217.2 610 L217.8 610.9 L218.4 610.4 L219 612.7 L219.6 613.6 L220.2 613.8 L220.8 615.6 L221.4 615.8 L222 616.7 L222.6 617.5 L223.2 620.1 L223.8 619.3 L224.4 619.9 L225 622.6 L225.6 623.6 L226.2 625.9 L226.8 624.8 L227.4 621.6 L228 625.6 L228.6 630.3 L229.2 632.8 L229.8 630.7 L230.4 629.4 L231 633 L231.6 640 L232.2 644 L232.8 643 L233.4 639.6 L234 638 L234.6 643.4 L235.2 646 L235.8 648.2 L236.4 643.6 L237 641.8 L237.6 644.8 L238.2 648.2 L238.8 651.1 L239.4 649 L240 644.9 L240.6 643.7 L241.2 646.9 L241.8 648.7 L242.4 650.9 L243 647.8 L243.6 647.1 L244.2 645.1 L244.8 651.4 L245.4 655.5 L246 651.7 L246.6 650.9 L247.2 649.7 L247.8 652.8 L248.4 655.7 L249 655.8 L249.6 654.1 L250.2 653.3 L250.8 653.5 L251.4 654.2 L252 657 L252.6 656.4 L253.2 653.1 L253.8 653.2 L254.4 654.3 L255 660.6 L255.6 661 L256.2 656.6 L256.8 657.7 L257.4 657.2 L258 657.6 L258.3 657.6 L259 645.6 L259.6 672.6 L260.3 657.6 L260.4 657.3 L261 658.1 L261.6 657.7 L262.2 656.5 L262.8 658 L263.4 658.4 L264 658.2 L264.6 658.2 L265.2 656.3 L265.8 657.4 L266.4 656.5 L267 658.1 L267.6 656.7 L268.2 658 L268.8 656.9 L269.4 658 L270 657.1 L270.6 656.4 L271.2 657.3 L271.8 657.1 L272.4 658.5 L273 657 L273.6 657.5 L274.2 657.6 L274.8 658.4 L275.4 656 L276 657.1 L276.6 657.1 L277.2 657.9 L277.8 658.8 L278.4 657.5 L279 658.8 L279.6 658.7 L280.2 659.1 L280.8 658.3 L281.4 660.4 L282 661.1 L282.6 659.9 L283.2 660.1 L283.8 662 L284.4 660.1 L285 661.2 L285.6 661.9 L286.2 663 L286.8 661.6 L287.4 660.4 L288 661.8 L288.6 661.9 L289.2 664.3 L289.8 663.2 L290.4 661.8 L291 660.2 L291.6 660.1 L292.2 660.8 L292.8 661.7 L293.4 663.3 L294 662.9 L294.6 664.4 L295.2 666.2 L295.8 668.3 L296.4 669.7 L297 669.7 L297.6 669.5 L298.2 669.2 L298.8 670.3 L299.4 672.8 L300 671 L300.6 672.2 L301.2 672.4 L301.8 673.1 L302.4 673.7 L303 673.5 L303.6 673.3 L304.2 673.7" fill="none" stroke="#008c00" stroke-width="3.6" stroke-linejoin="round" stroke-linecap="round"/>
<defs><linearGradient id="gl" x1="0" y1="0" x2="1" y2="0"><stop offset="0" stop-color="#fff" stop-opacity=".8"/><stop offset=".09" stop-color="#fff" stop-opacity=".3"/><stop offset=".2" stop-color="#fff" stop-opacity=".05"/><stop offset=".75" stop-color="#fff" stop-opacity=".05"/><stop offset=".9" stop-color="#fff" stop-opacity=".3"/><stop offset="1" stop-color="#fff" stop-opacity=".8"/></linearGradient><linearGradient id="nk" x1="0" y1="0" x2="1" y2="0"><stop offset="0" stop-color="#f4f6f4"/><stop offset=".35" stop-color="#c8ccd8"/><stop offset=".65" stop-color="#c8ccd8"/><stop offset="1" stop-color="#f4f6f4"/></linearGradient></defs>
<rect x="328" y="593.8" width="313.2" height="110.6" fill="#13173d"/>
<rect x="344.2" y="593.8" width="22.5" height="12.2" fill="url(#nk)"/>
<rect x="346.2" y="600.8" width="18.5" height="2.5" fill="#9aa0b6"/>
<clipPath id="v332"><path d="M343.2 601 C341.2 607 332.3 605 332.3 614 L332.3 690.5 Q332.3 696.5 339.3 696.5 L373.2 696.5 Q380.2 696.5 380.2 690.5 L380.2 614 C380.2 605 369.7 607 367.7 601 Z"/></clipPath>
<g clip-path="url(#v332)">
<rect x="332.3" y="600" width="47.9" height="33" fill="#b8bdcb"/>
<rect x="332.3" y="633" width="47.9" height="49" fill="#2c325f"/>
<rect x="332.3" y="682" width="47.9" height="14.5" fill="#cdd0d2"/>
<rect x="332.3" y="600" width="47.9" height="96.5" fill="url(#gl)"/>
<rect x="335.2" y="633" width="3" height="49" fill="#fff" opacity="0.45"/>
<rect x="370.6" y="633" width="2.5" height="49" fill="#fff" opacity="0.35"/>
<rect x="375.4" y="633" width="2" height="49" fill="#fff" opacity="0.4"/>
<rect x="332.3" y="631.7" width="47.9" height="2.6" fill="#f0f0ea"/>
<rect x="332.3" y="681" width="47.9" height="2.2" fill="#f2f2ec" opacity=".9"/>
</g>
<path d="M343.2 601 C341.2 607 332.3 605 332.3 614 L332.3 690.5 Q332.3 696.5 339.3 696.5 L373.2 696.5 Q380.2 696.5 380.2 690.5 L380.2 614 C380.2 605 369.7 607 367.7 601 Z" fill="none" stroke="#eceee8" stroke-width="1.5"/>
<text x="356.2" y="653.2" font-size="15" font-weight="bold" text-anchor="middle" fill="#f2ee00">0 h</text>
<rect x="406.9" y="593.8" width="24.7" height="10.2" fill="url(#nk)"/>
<rect x="408.9" y="600.8" width="20.7" height="2.5" fill="#9aa0b6"/>
<clipPath id="v393"><path d="M405.9 599 C403.9 605 393.4 603 393.4 612 L393.4 690.5 Q393.4 696.5 400.4 696.5 L437.5 696.5 Q444.5 696.5 444.5 690.5 L444.5 612 C444.5 603 434.6 605 432.6 599 Z"/></clipPath>
<g clip-path="url(#v393)">
<rect x="393.4" y="598" width="51.1" height="30" fill="#dcd8c4"/>
<rect x="393.4" y="628" width="51.1" height="47" fill="#aaa28c"/>
<rect x="393.4" y="675" width="51.1" height="21.5" fill="#e4e2d0"/>
<rect x="393.4" y="598" width="51.1" height="98.5" fill="url(#gl)"/>
<rect x="396.5" y="628" width="3" height="47" fill="#fff" opacity="0.45"/>
<rect x="434.3" y="628" width="2.5" height="47" fill="#fff" opacity="0.35"/>
<rect x="439.4" y="628" width="2" height="47" fill="#fff" opacity="0.4"/>
<rect x="393.4" y="626.7" width="51.1" height="2.6" fill="#f0f0ea"/>
<rect x="393.4" y="674" width="51.1" height="2.2" fill="#f2f2ec" opacity=".9"/>
</g>
<path d="M405.9 599 C403.9 605 393.4 603 393.4 612 L393.4 690.5 Q393.4 696.5 400.4 696.5 L437.5 696.5 Q444.5 696.5 444.5 690.5 L444.5 612 C444.5 603 434.6 605 432.6 599 Z" fill="none" stroke="#eceee8" stroke-width="1.5"/>
<text x="418.9" y="653.2" font-size="15" font-weight="bold" text-anchor="middle" fill="#f2ee00">3 h</text>
<text x="418.9" y="671.3" font-size="15" font-weight="bold" text-anchor="middle" fill="#f2ee00">(PEC)</text>
<rect x="477.7" y="593.8" width="24.7" height="12.2" fill="url(#nk)"/>
<rect x="479.7" y="600.8" width="20.7" height="2.5" fill="#9aa0b6"/>
<clipPath id="v462"><path d="M476.7 601 C474.7 607 462 605 462 614 L462 691.5 Q462 697.5 469 697.5 L507.8 697.5 Q514.8 697.5 514.8 691.5 L514.8 614 C514.8 605 505.4 607 503.4 601 Z"/></clipPath>
<g clip-path="url(#v462)">
<rect x="462" y="600" width="52.8" height="28" fill="#d8d4c6"/>
<rect x="462" y="628" width="52.8" height="42" fill="#9a8c90"/>
<rect x="462" y="670" width="52.8" height="27.5" fill="#dad6c8"/>
<rect x="462" y="600" width="52.8" height="97.5" fill="url(#gl)"/>
<rect x="465.2" y="628" width="3" height="42" fill="#fff" opacity="0.45"/>
<rect x="504.2" y="628" width="2.5" height="42" fill="#fff" opacity="0.35"/>
<rect x="509.5" y="628" width="2" height="42" fill="#fff" opacity="0.4"/>
<rect x="462" y="626.7" width="52.8" height="2.6" fill="#f0f0ea"/>
<rect x="462" y="669" width="52.8" height="2.2" fill="#f2f2ec" opacity=".9"/>
</g>
<path d="M476.7 601 C474.7 607 462 605 462 614 L462 691.5 Q462 697.5 469 697.5 L507.8 697.5 Q514.8 697.5 514.8 691.5 L514.8 614 C514.8 605 505.4 607 503.4 601 Z" fill="none" stroke="#eceee8" stroke-width="1.5"/>
<text x="488.4" y="653.2" font-size="15" font-weight="bold" text-anchor="middle" fill="#f2ee00">6 h</text>
<rect x="542.3" y="593.8" width="24.6" height="14.2" fill="url(#nk)"/>
<rect x="544.3" y="600.8" width="20.6" height="2.5" fill="#9aa0b6"/>
<clipPath id="v529"><path d="M541.3 603 C539.3 609 529.2 607 529.2 616 L529.2 690.7 Q529.2 696.7 536.2 696.7 L570.6 696.7 Q577.6 696.7 577.6 690.7 L577.6 616 C577.6 607 569.9 609 567.9 603 Z"/></clipPath>
<g clip-path="url(#v529)">
<rect x="529.2" y="602" width="48.4" height="29" fill="#85859d"/>
<rect x="529.2" y="631" width="48.4" height="53" fill="#4d4866"/>
<rect x="529.2" y="684" width="48.4" height="12.7" fill="#d4d4d0"/>
<rect x="529.2" y="602" width="48.4" height="94.7" fill="url(#gl)"/>
<rect x="532.1" y="631" width="3" height="53" fill="#fff" opacity="0.45"/>
<rect x="567.9" y="631" width="2.5" height="53" fill="#fff" opacity="0.35"/>
<rect x="572.8" y="631" width="2" height="53" fill="#fff" opacity="0.4"/>
<rect x="529.2" y="629.7" width="48.4" height="2.6" fill="#f0f0ea"/>
<rect x="529.2" y="683" width="48.4" height="2.2" fill="#f2f2ec" opacity=".9"/>
</g>
<path d="M541.3 603 C539.3 609 529.2 607 529.2 616 L529.2 690.7 Q529.2 696.7 536.2 696.7 L570.6 696.7 Q577.6 696.7 577.6 690.7 L577.6 616 C577.6 607 569.9 609 567.9 603 Z" fill="none" stroke="#eceee8" stroke-width="1.5"/>
<text x="553.4" y="653.2" font-size="15" font-weight="bold" text-anchor="middle" fill="#f2ee00">12 h</text>
<rect x="597.9" y="593.8" width="22.1" height="14.2" fill="url(#nk)"/>
<rect x="599.9" y="600.8" width="18.1" height="2.5" fill="#9aa0b6"/>
<clipPath id="v586"><path d="M596.9 603 C594.9 609 586.4 607 586.4 616 L586.4 689.5 Q586.4 695.5 593.4 695.5 L626.1 695.5 Q633.1 695.5 633.1 689.5 L633.1 616 C633.1 607 623 609 621 603 Z"/></clipPath>
<g clip-path="url(#v586)">
<rect x="586.4" y="602" width="46.7" height="29" fill="#bcc0cf"/>
<rect x="586.4" y="631" width="46.7" height="51" fill="#333a6a"/>
<rect x="586.4" y="682" width="46.7" height="13.5" fill="#ced1d6"/>
<rect x="586.4" y="602" width="46.7" height="93.5" fill="url(#gl)"/>
<rect x="589.2" y="631" width="3" height="51" fill="#fff" opacity="0.45"/>
<rect x="623.8" y="631" width="2.5" height="51" fill="#fff" opacity="0.35"/>
<rect x="628.4" y="631" width="2" height="51" fill="#fff" opacity="0.4"/>
<rect x="586.4" y="629.7" width="46.7" height="2.6" fill="#f0f0ea"/>
<rect x="586.4" y="681" width="46.7" height="2.2" fill="#f2f2ec" opacity=".9"/>
</g>
<path d="M596.9 603 C594.9 609 586.4 607 586.4 616 L586.4 689.5 Q586.4 695.5 593.4 695.5 L626.1 695.5 Q633.1 695.5 633.1 689.5 L633.1 616 C633.1 607 623 609 621 603 Z" fill="none" stroke="#eceee8" stroke-width="1.5"/>
<text x="609.8" y="653.2" font-size="15" font-weight="bold" text-anchor="middle" fill="#f2ee00">24 h</text>
<!--END-->
</svg></body></html>
